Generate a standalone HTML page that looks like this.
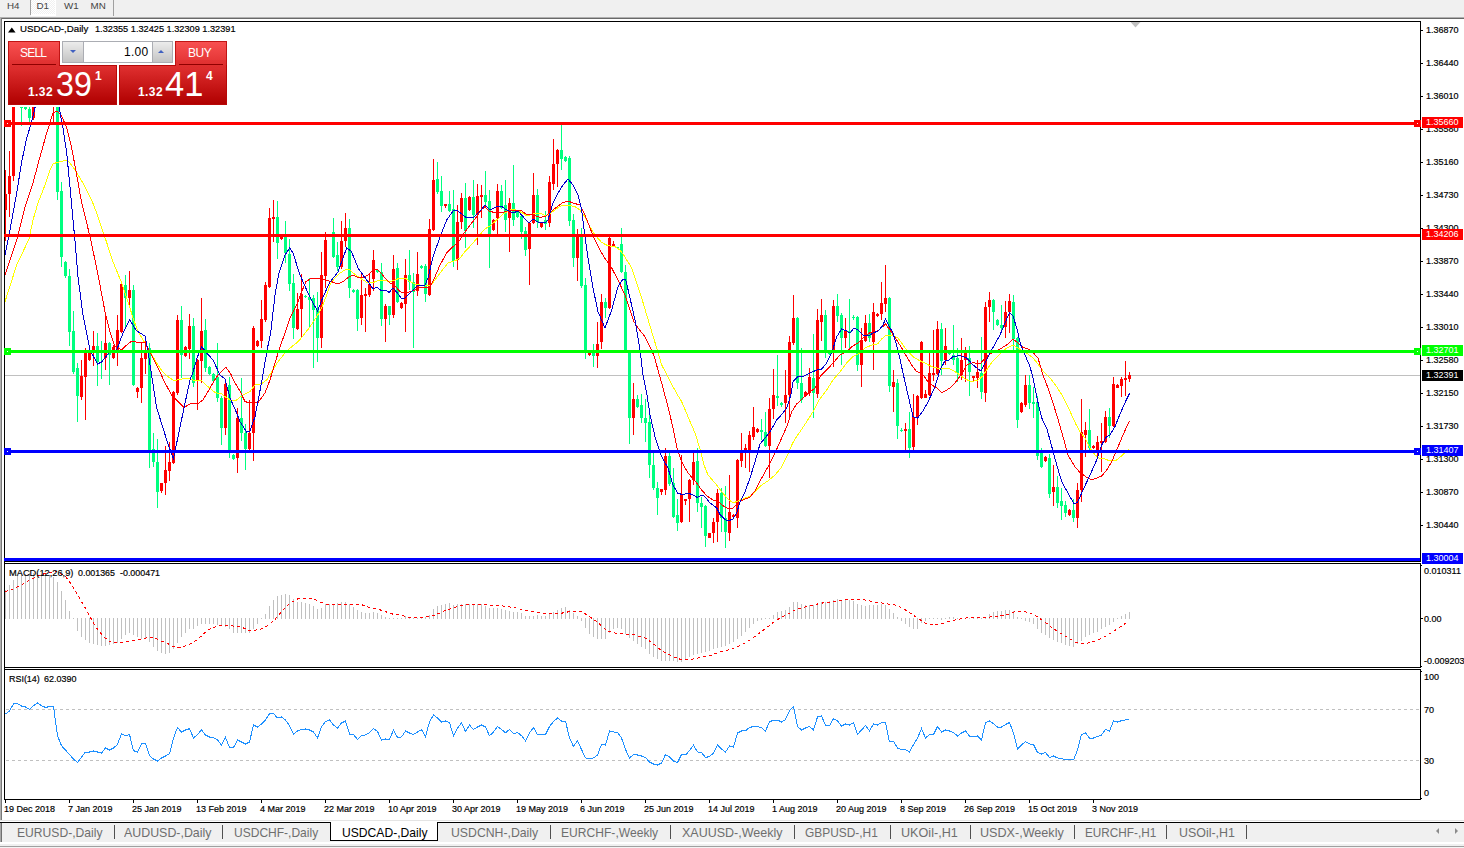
<!DOCTYPE html>
<html><head><meta charset="utf-8"><title>chart</title>
<style>
html,body{margin:0;padding:0}
body{width:1464px;height:848px;background:#f0f0f0;position:relative;overflow:hidden;font-family:"Liberation Sans",sans-serif}
.t{position:absolute;white-space:nowrap;line-height:1.15;font-family:"Liberation Sans",sans-serif}
.s{-webkit-text-stroke:0.2px currentColor}
.lab{position:absolute;left:1422px;width:41px;height:11px;font-size:9.8px;line-height:11px;white-space:nowrap;overflow:hidden}
.lab span{position:absolute;left:4px;top:-1px;transform:scaleX(0.92);transform-origin:0 0}
.abs{position:absolute}
</style></head><body>
<!-- top tab bar -->
<div class="abs" style="left:31px;top:0;width:25px;height:16px;background:#fff"></div><div class="abs" style="left:31px;top:0;width:24px;height:14px;background-color:#f0f0f0;background-image:conic-gradient(#fff 25%,#f0f0f0 0 50%,#fff 0 75%,#f0f0f0 0);background-size:2px 2px"></div>
<div class="abs" style="left:30px;top:0;width:1px;height:15px;background:#a0a0a0"></div>
<div class="abs" style="left:113px;top:0;width:1px;height:16px;background:#a0a0a0"></div>
<svg width="1464" height="848" viewBox="0 0 1464 848" style="position:absolute;left:0;top:0"><defs><clipPath id="cm"><rect x="5" y="22" width="1415" height="539"/></clipPath></defs><g shape-rendering="crispEdges"><rect x="0" y="17" width="1464" height="1" fill="#b0b0b0"/><rect x="0" y="18" width="1464" height="1" fill="#696969"/><rect x="0" y="19" width="1464" height="803" fill="#ffffff"/><rect x="0" y="18" width="1" height="803" fill="#b0b0b0"/><rect x="1" y="18" width="1" height="803" fill="#787878"/><rect x="4" y="21" width="1417" height="1" fill="#000"/><rect x="4" y="21" width="1" height="779" fill="#000"/><rect x="1420" y="21" width="1" height="779" fill="#000"/><rect x="4" y="799" width="1417" height="1" fill="#000"/><rect x="4" y="561" width="1417" height="1" fill="#000"/><rect x="4" y="563" width="1417" height="1" fill="#000"/><rect x="4" y="667" width="1417" height="1" fill="#000"/><rect x="4" y="669" width="1417" height="1" fill="#000"/><rect x="5" y="375" width="1415" height="1" fill="#c0c0c0"/></g><polygon points="1130.5,22 1140.5,22 1135.5,27.5" fill="#c0c0c0"/><g clip-path="url(#cm)"><g shape-rendering="crispEdges"><rect x="5" y="170" width="1" height="71" fill="#ff0000"/><rect x="4" y="194" width="3" height="16" fill="#ff0000"/><rect x="9" y="151" width="1" height="66" fill="#ff0000"/><rect x="8" y="176" width="3" height="18" fill="#ff0000"/><rect x="13" y="55" width="1" height="126" fill="#ff0000"/><rect x="12" y="60" width="3" height="116" fill="#ff0000"/><rect x="17" y="50" width="1" height="30" fill="#ff0000"/><rect x="16" y="55" width="3" height="15" fill="#ff0000"/><rect x="21" y="50" width="1" height="76" fill="#00ff7f"/><rect x="20" y="60" width="3" height="48" fill="#00ff7f"/><rect x="25" y="95" width="1" height="15" fill="#00ff7f"/><rect x="24" y="100" width="3" height="9" fill="#00ff7f"/><rect x="29" y="80" width="1" height="42" fill="#00ff7f"/><rect x="28" y="109" width="3" height="9" fill="#00ff7f"/><rect x="33" y="80" width="1" height="40" fill="#ff0000"/><rect x="32" y="85" width="3" height="33" fill="#ff0000"/><rect x="37" y="70" width="1" height="30" fill="#00ff7f"/><rect x="36" y="75" width="3" height="20" fill="#00ff7f"/><rect x="41" y="70" width="1" height="30" fill="#00ff7f"/><rect x="40" y="75" width="3" height="20" fill="#00ff7f"/><rect x="45" y="70" width="1" height="30" fill="#ff0000"/><rect x="44" y="75" width="3" height="20" fill="#ff0000"/><rect x="49" y="60" width="1" height="40" fill="#ff0000"/><rect x="48" y="65" width="3" height="25" fill="#ff0000"/><rect x="53" y="55" width="1" height="67" fill="#ff0000"/><rect x="52" y="60" width="3" height="40" fill="#ff0000"/><rect x="57" y="55" width="1" height="145" fill="#00ff7f"/><rect x="56" y="58" width="3" height="134" fill="#00ff7f"/><rect x="61" y="182" width="1" height="85" fill="#00ff7f"/><rect x="60" y="191" width="3" height="66" fill="#00ff7f"/><rect x="65" y="261" width="1" height="17" fill="#00ff7f"/><rect x="64" y="262" width="3" height="14" fill="#00ff7f"/><rect x="69" y="269" width="1" height="77" fill="#00ff7f"/><rect x="68" y="276" width="3" height="56" fill="#00ff7f"/><rect x="73" y="311" width="1" height="63" fill="#00ff7f"/><rect x="72" y="331" width="3" height="41" fill="#00ff7f"/><rect x="77" y="363" width="1" height="59" fill="#00ff7f"/><rect x="76" y="368" width="3" height="28" fill="#00ff7f"/><rect x="81" y="360" width="1" height="40" fill="#ff0000"/><rect x="80" y="376" width="3" height="21" fill="#ff0000"/><rect x="85" y="348" width="1" height="72" fill="#ff0000"/><rect x="84" y="352" width="3" height="25" fill="#ff0000"/><rect x="89" y="350" width="1" height="11" fill="#ff0000"/><rect x="88" y="352" width="3" height="8" fill="#ff0000"/><rect x="93" y="331" width="1" height="35" fill="#ff0000"/><rect x="92" y="346" width="3" height="7" fill="#ff0000"/><rect x="97" y="333" width="1" height="53" fill="#00ff7f"/><rect x="96" y="346" width="3" height="16" fill="#00ff7f"/><rect x="101" y="341" width="1" height="38" fill="#00ff7f"/><rect x="100" y="350" width="3" height="3" fill="#00ff7f"/><rect x="105" y="312" width="1" height="58" fill="#ff0000"/><rect x="104" y="343" width="3" height="15" fill="#ff0000"/><rect x="109" y="342" width="1" height="43" fill="#00ff7f"/><rect x="108" y="343" width="3" height="12" fill="#00ff7f"/><rect x="113" y="345" width="1" height="14" fill="#ff0000"/><rect x="112" y="347" width="3" height="11" fill="#ff0000"/><rect x="117" y="315" width="1" height="51" fill="#ff0000"/><rect x="116" y="330" width="3" height="20" fill="#ff0000"/><rect x="121" y="283" width="1" height="50" fill="#ff0000"/><rect x="120" y="284" width="3" height="48" fill="#ff0000"/><rect x="125" y="275" width="1" height="53" fill="#00ff7f"/><rect x="124" y="285" width="3" height="13" fill="#00ff7f"/><rect x="129" y="271" width="1" height="36" fill="#ff0000"/><rect x="128" y="290" width="3" height="8" fill="#ff0000"/><rect x="133" y="285" width="1" height="101" fill="#00ff7f"/><rect x="132" y="290" width="3" height="95" fill="#00ff7f"/><rect x="137" y="387" width="1" height="11" fill="#ff0000"/><rect x="136" y="388" width="3" height="4" fill="#ff0000"/><rect x="141" y="342" width="1" height="61" fill="#ff0000"/><rect x="140" y="358" width="3" height="30" fill="#ff0000"/><rect x="145" y="340" width="1" height="34" fill="#ff0000"/><rect x="144" y="352" width="3" height="7" fill="#ff0000"/><rect x="149" y="343" width="1" height="125" fill="#00ff7f"/><rect x="148" y="348" width="3" height="103" fill="#00ff7f"/><rect x="153" y="433" width="1" height="34" fill="#00ff7f"/><rect x="152" y="449" width="3" height="13" fill="#00ff7f"/><rect x="157" y="439" width="1" height="69" fill="#00ff7f"/><rect x="156" y="462" width="3" height="30" fill="#00ff7f"/><rect x="161" y="483" width="1" height="10" fill="#ff0000"/><rect x="160" y="483" width="3" height="8" fill="#ff0000"/><rect x="165" y="446" width="1" height="49" fill="#ff0000"/><rect x="164" y="470" width="3" height="13" fill="#ff0000"/><rect x="169" y="442" width="1" height="39" fill="#ff0000"/><rect x="168" y="462" width="3" height="9" fill="#ff0000"/><rect x="173" y="391" width="1" height="73" fill="#ff0000"/><rect x="172" y="392" width="3" height="71" fill="#ff0000"/><rect x="177" y="315" width="1" height="80" fill="#ff0000"/><rect x="176" y="320" width="3" height="73" fill="#ff0000"/><rect x="181" y="306" width="1" height="72" fill="#00ff7f"/><rect x="180" y="320" width="3" height="35" fill="#00ff7f"/><rect x="185" y="346" width="1" height="11" fill="#ff0000"/><rect x="184" y="347" width="3" height="9" fill="#ff0000"/><rect x="189" y="314" width="1" height="45" fill="#ff0000"/><rect x="188" y="326" width="3" height="23" fill="#ff0000"/><rect x="193" y="318" width="1" height="69" fill="#00ff7f"/><rect x="192" y="326" width="3" height="57" fill="#00ff7f"/><rect x="197" y="359" width="1" height="51" fill="#ff0000"/><rect x="196" y="360" width="3" height="20" fill="#ff0000"/><rect x="201" y="298" width="1" height="85" fill="#ff0000"/><rect x="200" y="331" width="3" height="30" fill="#ff0000"/><rect x="205" y="319" width="1" height="53" fill="#00ff7f"/><rect x="204" y="330" width="3" height="38" fill="#00ff7f"/><rect x="209" y="366" width="1" height="9" fill="#00ff7f"/><rect x="208" y="367" width="3" height="7" fill="#00ff7f"/><rect x="213" y="373" width="1" height="10" fill="#00ff7f"/><rect x="212" y="374" width="3" height="7" fill="#00ff7f"/><rect x="217" y="343" width="1" height="59" fill="#00ff7f"/><rect x="216" y="377" width="3" height="21" fill="#00ff7f"/><rect x="221" y="396" width="1" height="49" fill="#00ff7f"/><rect x="220" y="398" width="3" height="30" fill="#00ff7f"/><rect x="225" y="380" width="1" height="55" fill="#ff0000"/><rect x="224" y="384" width="3" height="44" fill="#ff0000"/><rect x="229" y="377" width="1" height="81" fill="#00ff7f"/><rect x="228" y="385" width="3" height="67" fill="#00ff7f"/><rect x="233" y="454" width="1" height="6" fill="#00ff7f"/><rect x="232" y="455" width="3" height="4" fill="#00ff7f"/><rect x="237" y="408" width="1" height="65" fill="#ff0000"/><rect x="236" y="418" width="3" height="40" fill="#ff0000"/><rect x="241" y="378" width="1" height="63" fill="#00ff7f"/><rect x="240" y="418" width="3" height="15" fill="#00ff7f"/><rect x="245" y="424" width="1" height="46" fill="#00ff7f"/><rect x="244" y="433" width="3" height="16" fill="#00ff7f"/><rect x="249" y="400" width="1" height="50" fill="#ff0000"/><rect x="248" y="433" width="3" height="16" fill="#ff0000"/><rect x="253" y="326" width="1" height="135" fill="#ff0000"/><rect x="252" y="328" width="3" height="105" fill="#ff0000"/><rect x="257" y="340" width="1" height="7" fill="#ff0000"/><rect x="256" y="341" width="3" height="5" fill="#ff0000"/><rect x="261" y="300" width="1" height="48" fill="#ff0000"/><rect x="260" y="319" width="3" height="22" fill="#ff0000"/><rect x="265" y="282" width="1" height="40" fill="#ff0000"/><rect x="264" y="285" width="3" height="35" fill="#ff0000"/><rect x="269" y="208" width="1" height="80" fill="#ff0000"/><rect x="268" y="218" width="3" height="69" fill="#ff0000"/><rect x="273" y="200" width="1" height="42" fill="#ff0000"/><rect x="272" y="217" width="3" height="2" fill="#ff0000"/><rect x="277" y="201" width="1" height="58" fill="#00ff7f"/><rect x="276" y="217" width="3" height="26" fill="#00ff7f"/><rect x="281" y="237" width="1" height="3" fill="#ff0000"/><rect x="280" y="237" width="3" height="2" fill="#ff0000"/><rect x="285" y="221" width="1" height="42" fill="#00ff7f"/><rect x="284" y="237" width="3" height="16" fill="#00ff7f"/><rect x="289" y="239" width="1" height="52" fill="#00ff7f"/><rect x="288" y="254" width="3" height="30" fill="#00ff7f"/><rect x="293" y="274" width="1" height="65" fill="#00ff7f"/><rect x="292" y="283" width="3" height="45" fill="#00ff7f"/><rect x="297" y="293" width="1" height="37" fill="#ff0000"/><rect x="296" y="309" width="3" height="20" fill="#ff0000"/><rect x="301" y="274" width="1" height="64" fill="#ff0000"/><rect x="300" y="294" width="3" height="15" fill="#ff0000"/><rect x="305" y="295" width="1" height="3" fill="#00ff7f"/><rect x="304" y="296" width="3" height="1" fill="#00ff7f"/><rect x="309" y="278" width="1" height="50" fill="#00ff7f"/><rect x="308" y="297" width="3" height="3" fill="#00ff7f"/><rect x="313" y="295" width="1" height="73" fill="#00ff7f"/><rect x="312" y="298" width="3" height="12" fill="#00ff7f"/><rect x="317" y="292" width="1" height="70" fill="#00ff7f"/><rect x="316" y="309" width="3" height="29" fill="#00ff7f"/><rect x="321" y="252" width="1" height="96" fill="#ff0000"/><rect x="320" y="275" width="3" height="63" fill="#ff0000"/><rect x="325" y="232" width="1" height="56" fill="#ff0000"/><rect x="324" y="240" width="3" height="36" fill="#ff0000"/><rect x="329" y="234" width="1" height="2" fill="#00ff7f"/><rect x="328" y="234" width="3" height="2" fill="#00ff7f"/><rect x="333" y="218" width="1" height="40" fill="#00ff7f"/><rect x="332" y="232" width="3" height="25" fill="#00ff7f"/><rect x="337" y="242" width="1" height="29" fill="#00ff7f"/><rect x="336" y="255" width="3" height="12" fill="#00ff7f"/><rect x="341" y="221" width="1" height="48" fill="#ff0000"/><rect x="340" y="241" width="3" height="26" fill="#ff0000"/><rect x="345" y="213" width="1" height="34" fill="#ff0000"/><rect x="344" y="228" width="3" height="13" fill="#ff0000"/><rect x="349" y="219" width="1" height="79" fill="#00ff7f"/><rect x="348" y="228" width="3" height="60" fill="#00ff7f"/><rect x="353" y="289" width="1" height="4" fill="#00ff7f"/><rect x="352" y="290" width="3" height="2" fill="#00ff7f"/><rect x="357" y="289" width="1" height="42" fill="#00ff7f"/><rect x="356" y="290" width="3" height="29" fill="#00ff7f"/><rect x="361" y="272" width="1" height="53" fill="#ff0000"/><rect x="360" y="295" width="3" height="23" fill="#ff0000"/><rect x="365" y="288" width="1" height="44" fill="#ff0000"/><rect x="364" y="294" width="3" height="2" fill="#ff0000"/><rect x="369" y="273" width="1" height="24" fill="#ff0000"/><rect x="368" y="284" width="3" height="11" fill="#ff0000"/><rect x="373" y="250" width="1" height="41" fill="#ff0000"/><rect x="372" y="260" width="3" height="19" fill="#ff0000"/><rect x="377" y="269" width="1" height="4" fill="#00ff7f"/><rect x="376" y="270" width="3" height="2" fill="#00ff7f"/><rect x="381" y="263" width="1" height="63" fill="#00ff7f"/><rect x="380" y="272" width="3" height="47" fill="#00ff7f"/><rect x="385" y="304" width="1" height="38" fill="#ff0000"/><rect x="384" y="306" width="3" height="13" fill="#ff0000"/><rect x="389" y="306" width="1" height="19" fill="#00ff7f"/><rect x="388" y="306" width="3" height="9" fill="#00ff7f"/><rect x="393" y="255" width="1" height="63" fill="#ff0000"/><rect x="392" y="269" width="3" height="46" fill="#ff0000"/><rect x="397" y="263" width="1" height="40" fill="#00ff7f"/><rect x="396" y="268" width="3" height="34" fill="#00ff7f"/><rect x="401" y="302" width="1" height="7" fill="#ff0000"/><rect x="400" y="303" width="3" height="5" fill="#ff0000"/><rect x="405" y="259" width="1" height="73" fill="#ff0000"/><rect x="404" y="275" width="3" height="29" fill="#ff0000"/><rect x="409" y="250" width="1" height="40" fill="#00ff7f"/><rect x="408" y="275" width="3" height="7" fill="#00ff7f"/><rect x="413" y="273" width="1" height="75" fill="#00ff7f"/><rect x="412" y="282" width="3" height="10" fill="#00ff7f"/><rect x="417" y="252" width="1" height="44" fill="#ff0000"/><rect x="416" y="274" width="3" height="17" fill="#ff0000"/><rect x="421" y="265" width="1" height="4" fill="#00ff7f"/><rect x="420" y="266" width="3" height="2" fill="#00ff7f"/><rect x="425" y="264" width="1" height="38" fill="#00ff7f"/><rect x="424" y="266" width="3" height="28" fill="#00ff7f"/><rect x="429" y="219" width="1" height="77" fill="#ff0000"/><rect x="428" y="229" width="3" height="66" fill="#ff0000"/><rect x="433" y="159" width="1" height="72" fill="#ff0000"/><rect x="432" y="180" width="3" height="50" fill="#ff0000"/><rect x="437" y="162" width="1" height="32" fill="#00ff7f"/><rect x="436" y="179" width="3" height="13" fill="#00ff7f"/><rect x="441" y="176" width="1" height="36" fill="#00ff7f"/><rect x="440" y="191" width="3" height="15" fill="#00ff7f"/><rect x="445" y="204" width="1" height="4" fill="#ff0000"/><rect x="444" y="204" width="3" height="2" fill="#ff0000"/><rect x="449" y="191" width="1" height="21" fill="#00ff7f"/><rect x="448" y="204" width="3" height="7" fill="#00ff7f"/><rect x="453" y="190" width="1" height="77" fill="#00ff7f"/><rect x="452" y="209" width="3" height="52" fill="#00ff7f"/><rect x="457" y="205" width="1" height="65" fill="#ff0000"/><rect x="456" y="222" width="3" height="38" fill="#ff0000"/><rect x="461" y="193" width="1" height="36" fill="#ff0000"/><rect x="460" y="198" width="3" height="24" fill="#ff0000"/><rect x="465" y="183" width="1" height="65" fill="#00ff7f"/><rect x="464" y="198" width="3" height="33" fill="#00ff7f"/><rect x="469" y="196" width="1" height="15" fill="#ff0000"/><rect x="468" y="197" width="3" height="13" fill="#ff0000"/><rect x="473" y="180" width="1" height="48" fill="#00ff7f"/><rect x="472" y="197" width="3" height="18" fill="#00ff7f"/><rect x="477" y="184" width="1" height="61" fill="#ff0000"/><rect x="476" y="196" width="3" height="19" fill="#ff0000"/><rect x="481" y="185" width="1" height="33" fill="#ff0000"/><rect x="480" y="195" width="3" height="2" fill="#ff0000"/><rect x="485" y="171" width="1" height="34" fill="#00ff7f"/><rect x="484" y="195" width="3" height="7" fill="#00ff7f"/><rect x="489" y="190" width="1" height="78" fill="#00ff7f"/><rect x="488" y="201" width="3" height="33" fill="#00ff7f"/><rect x="493" y="219" width="1" height="12" fill="#ff0000"/><rect x="492" y="220" width="3" height="10" fill="#ff0000"/><rect x="497" y="184" width="1" height="50" fill="#ff0000"/><rect x="496" y="191" width="3" height="27" fill="#ff0000"/><rect x="501" y="185" width="1" height="24" fill="#00ff7f"/><rect x="500" y="191" width="3" height="17" fill="#00ff7f"/><rect x="505" y="180" width="1" height="52" fill="#00ff7f"/><rect x="504" y="205" width="3" height="15" fill="#00ff7f"/><rect x="509" y="198" width="1" height="54" fill="#ff0000"/><rect x="508" y="203" width="3" height="15" fill="#ff0000"/><rect x="513" y="165" width="1" height="61" fill="#00ff7f"/><rect x="512" y="203" width="3" height="17" fill="#00ff7f"/><rect x="517" y="210" width="1" height="8" fill="#00ff7f"/><rect x="516" y="211" width="3" height="6" fill="#00ff7f"/><rect x="521" y="214" width="1" height="25" fill="#00ff7f"/><rect x="520" y="216" width="3" height="16" fill="#00ff7f"/><rect x="525" y="227" width="1" height="29" fill="#00ff7f"/><rect x="524" y="231" width="3" height="19" fill="#00ff7f"/><rect x="529" y="222" width="1" height="63" fill="#ff0000"/><rect x="528" y="223" width="3" height="26" fill="#ff0000"/><rect x="533" y="173" width="1" height="51" fill="#ff0000"/><rect x="532" y="195" width="3" height="28" fill="#ff0000"/><rect x="537" y="189" width="1" height="39" fill="#00ff7f"/><rect x="536" y="195" width="3" height="27" fill="#00ff7f"/><rect x="541" y="222" width="1" height="6" fill="#ff0000"/><rect x="540" y="222" width="3" height="5" fill="#ff0000"/><rect x="545" y="211" width="1" height="19" fill="#00ff7f"/><rect x="544" y="220" width="3" height="4" fill="#00ff7f"/><rect x="549" y="176" width="1" height="51" fill="#ff0000"/><rect x="548" y="182" width="3" height="41" fill="#ff0000"/><rect x="553" y="139" width="1" height="51" fill="#ff0000"/><rect x="552" y="164" width="3" height="20" fill="#ff0000"/><rect x="557" y="149" width="1" height="38" fill="#ff0000"/><rect x="556" y="150" width="3" height="14" fill="#ff0000"/><rect x="561" y="125" width="1" height="45" fill="#00ff7f"/><rect x="560" y="150" width="3" height="9" fill="#00ff7f"/><rect x="565" y="156" width="1" height="6" fill="#00ff7f"/><rect x="564" y="157" width="3" height="4" fill="#00ff7f"/><rect x="569" y="156" width="1" height="70" fill="#00ff7f"/><rect x="568" y="158" width="3" height="63" fill="#00ff7f"/><rect x="573" y="214" width="1" height="53" fill="#00ff7f"/><rect x="572" y="220" width="3" height="38" fill="#00ff7f"/><rect x="577" y="229" width="1" height="52" fill="#ff0000"/><rect x="576" y="237" width="3" height="21" fill="#ff0000"/><rect x="581" y="228" width="1" height="60" fill="#00ff7f"/><rect x="580" y="235" width="3" height="51" fill="#00ff7f"/><rect x="585" y="278" width="1" height="81" fill="#00ff7f"/><rect x="584" y="285" width="3" height="68" fill="#00ff7f"/><rect x="589" y="352" width="1" height="4" fill="#ff0000"/><rect x="588" y="353" width="3" height="2" fill="#ff0000"/><rect x="593" y="344" width="1" height="23" fill="#00ff7f"/><rect x="592" y="351" width="3" height="5" fill="#00ff7f"/><rect x="597" y="322" width="1" height="46" fill="#ff0000"/><rect x="596" y="344" width="3" height="12" fill="#ff0000"/><rect x="601" y="294" width="1" height="55" fill="#ff0000"/><rect x="600" y="302" width="3" height="40" fill="#ff0000"/><rect x="605" y="298" width="1" height="20" fill="#00ff7f"/><rect x="604" y="302" width="3" height="6" fill="#00ff7f"/><rect x="609" y="237" width="1" height="72" fill="#ff0000"/><rect x="608" y="238" width="3" height="70" fill="#ff0000"/><rect x="613" y="241" width="1" height="6" fill="#ff0000"/><rect x="612" y="244" width="3" height="3" fill="#ff0000"/><rect x="617" y="247" width="1" height="1" fill="#00ff7f"/><rect x="616" y="247" width="3" height="1" fill="#00ff7f"/><rect x="621" y="228" width="1" height="45" fill="#00ff7f"/><rect x="620" y="244" width="3" height="28" fill="#00ff7f"/><rect x="625" y="265" width="1" height="87" fill="#00ff7f"/><rect x="624" y="272" width="3" height="79" fill="#00ff7f"/><rect x="629" y="351" width="1" height="93" fill="#00ff7f"/><rect x="628" y="352" width="3" height="66" fill="#00ff7f"/><rect x="633" y="383" width="1" height="52" fill="#ff0000"/><rect x="632" y="399" width="3" height="19" fill="#ff0000"/><rect x="637" y="395" width="1" height="13" fill="#00ff7f"/><rect x="636" y="399" width="3" height="8" fill="#00ff7f"/><rect x="641" y="394" width="1" height="29" fill="#00ff7f"/><rect x="640" y="405" width="3" height="13" fill="#00ff7f"/><rect x="645" y="399" width="1" height="43" fill="#00ff7f"/><rect x="644" y="418" width="3" height="5" fill="#00ff7f"/><rect x="649" y="413" width="1" height="65" fill="#00ff7f"/><rect x="648" y="422" width="3" height="43" fill="#00ff7f"/><rect x="653" y="452" width="1" height="38" fill="#00ff7f"/><rect x="652" y="465" width="3" height="23" fill="#00ff7f"/><rect x="657" y="482" width="1" height="33" fill="#00ff7f"/><rect x="656" y="488" width="3" height="10" fill="#00ff7f"/><rect x="661" y="489" width="1" height="6" fill="#ff0000"/><rect x="660" y="489" width="3" height="3" fill="#ff0000"/><rect x="665" y="448" width="1" height="47" fill="#ff0000"/><rect x="664" y="456" width="3" height="34" fill="#ff0000"/><rect x="669" y="453" width="1" height="33" fill="#00ff7f"/><rect x="668" y="456" width="3" height="28" fill="#00ff7f"/><rect x="673" y="468" width="1" height="50" fill="#00ff7f"/><rect x="672" y="483" width="3" height="34" fill="#00ff7f"/><rect x="677" y="499" width="1" height="32" fill="#00ff7f"/><rect x="676" y="515" width="3" height="8" fill="#00ff7f"/><rect x="681" y="455" width="1" height="68" fill="#ff0000"/><rect x="680" y="494" width="3" height="28" fill="#ff0000"/><rect x="685" y="499" width="1" height="6" fill="#ff0000"/><rect x="684" y="499" width="3" height="2" fill="#ff0000"/><rect x="689" y="479" width="1" height="43" fill="#ff0000"/><rect x="688" y="480" width="3" height="19" fill="#ff0000"/><rect x="693" y="452" width="1" height="33" fill="#ff0000"/><rect x="692" y="462" width="3" height="18" fill="#ff0000"/><rect x="697" y="448" width="1" height="64" fill="#00ff7f"/><rect x="696" y="461" width="3" height="42" fill="#00ff7f"/><rect x="701" y="497" width="1" height="31" fill="#00ff7f"/><rect x="700" y="503" width="3" height="4" fill="#00ff7f"/><rect x="705" y="505" width="1" height="42" fill="#00ff7f"/><rect x="704" y="506" width="3" height="30" fill="#00ff7f"/><rect x="709" y="533" width="1" height="5" fill="#ff0000"/><rect x="708" y="533" width="3" height="5" fill="#ff0000"/><rect x="713" y="518" width="1" height="25" fill="#ff0000"/><rect x="712" y="522" width="3" height="11" fill="#ff0000"/><rect x="717" y="489" width="1" height="53" fill="#ff0000"/><rect x="716" y="493" width="3" height="29" fill="#ff0000"/><rect x="721" y="488" width="1" height="44" fill="#00ff7f"/><rect x="720" y="493" width="3" height="25" fill="#00ff7f"/><rect x="725" y="486" width="1" height="62" fill="#00ff7f"/><rect x="724" y="518" width="3" height="14" fill="#00ff7f"/><rect x="729" y="475" width="1" height="66" fill="#ff0000"/><rect x="728" y="512" width="3" height="21" fill="#ff0000"/><rect x="733" y="514" width="1" height="4" fill="#ff0000"/><rect x="732" y="515" width="3" height="2" fill="#ff0000"/><rect x="737" y="459" width="1" height="69" fill="#ff0000"/><rect x="736" y="460" width="3" height="58" fill="#ff0000"/><rect x="741" y="433" width="1" height="34" fill="#ff0000"/><rect x="740" y="452" width="3" height="9" fill="#ff0000"/><rect x="745" y="444" width="1" height="24" fill="#ff0000"/><rect x="744" y="448" width="3" height="3" fill="#ff0000"/><rect x="749" y="431" width="1" height="41" fill="#ff0000"/><rect x="748" y="435" width="3" height="15" fill="#ff0000"/><rect x="753" y="407" width="1" height="33" fill="#ff0000"/><rect x="752" y="427" width="3" height="10" fill="#ff0000"/><rect x="757" y="428" width="1" height="5" fill="#ff0000"/><rect x="756" y="429" width="3" height="3" fill="#ff0000"/><rect x="761" y="419" width="1" height="21" fill="#00ff7f"/><rect x="760" y="430" width="3" height="2" fill="#00ff7f"/><rect x="765" y="412" width="1" height="35" fill="#00ff7f"/><rect x="764" y="432" width="3" height="14" fill="#00ff7f"/><rect x="769" y="398" width="1" height="80" fill="#ff0000"/><rect x="768" y="409" width="3" height="37" fill="#ff0000"/><rect x="773" y="369" width="1" height="50" fill="#ff0000"/><rect x="772" y="395" width="3" height="14" fill="#ff0000"/><rect x="777" y="355" width="1" height="51" fill="#00ff7f"/><rect x="776" y="396" width="3" height="2" fill="#00ff7f"/><rect x="781" y="402" width="1" height="5" fill="#00ff7f"/><rect x="780" y="403" width="3" height="2" fill="#00ff7f"/><rect x="785" y="370" width="1" height="53" fill="#ff0000"/><rect x="784" y="395" width="3" height="8" fill="#ff0000"/><rect x="789" y="336" width="1" height="81" fill="#ff0000"/><rect x="788" y="342" width="3" height="53" fill="#ff0000"/><rect x="793" y="295" width="1" height="50" fill="#ff0000"/><rect x="792" y="318" width="3" height="25" fill="#ff0000"/><rect x="797" y="317" width="1" height="72" fill="#00ff7f"/><rect x="796" y="318" width="3" height="65" fill="#00ff7f"/><rect x="801" y="348" width="1" height="55" fill="#00ff7f"/><rect x="800" y="383" width="3" height="17" fill="#00ff7f"/><rect x="805" y="391" width="1" height="6" fill="#ff0000"/><rect x="804" y="392" width="3" height="4" fill="#ff0000"/><rect x="809" y="368" width="1" height="28" fill="#ff0000"/><rect x="808" y="377" width="3" height="16" fill="#ff0000"/><rect x="813" y="334" width="1" height="84" fill="#00ff7f"/><rect x="812" y="378" width="3" height="15" fill="#00ff7f"/><rect x="817" y="309" width="1" height="89" fill="#ff0000"/><rect x="816" y="320" width="3" height="74" fill="#ff0000"/><rect x="821" y="299" width="1" height="42" fill="#ff0000"/><rect x="820" y="315" width="3" height="7" fill="#ff0000"/><rect x="825" y="310" width="1" height="48" fill="#00ff7f"/><rect x="824" y="315" width="3" height="37" fill="#00ff7f"/><rect x="829" y="352" width="1" height="3" fill="#00ff7f"/><rect x="828" y="353" width="3" height="1" fill="#00ff7f"/><rect x="833" y="300" width="1" height="67" fill="#ff0000"/><rect x="832" y="306" width="3" height="47" fill="#ff0000"/><rect x="837" y="294" width="1" height="28" fill="#00ff7f"/><rect x="836" y="306" width="3" height="10" fill="#00ff7f"/><rect x="841" y="313" width="1" height="52" fill="#00ff7f"/><rect x="840" y="315" width="3" height="23" fill="#00ff7f"/><rect x="845" y="318" width="1" height="30" fill="#ff0000"/><rect x="844" y="331" width="3" height="7" fill="#ff0000"/><rect x="849" y="299" width="1" height="49" fill="#00ff7f"/><rect x="848" y="331" width="3" height="2" fill="#00ff7f"/><rect x="853" y="315" width="1" height="5" fill="#00ff7f"/><rect x="852" y="317" width="3" height="1" fill="#00ff7f"/><rect x="857" y="316" width="1" height="55" fill="#00ff7f"/><rect x="856" y="317" width="3" height="48" fill="#00ff7f"/><rect x="861" y="328" width="1" height="59" fill="#ff0000"/><rect x="860" y="340" width="3" height="25" fill="#ff0000"/><rect x="865" y="315" width="1" height="27" fill="#ff0000"/><rect x="864" y="323" width="3" height="18" fill="#ff0000"/><rect x="869" y="314" width="1" height="28" fill="#00ff7f"/><rect x="868" y="323" width="3" height="15" fill="#00ff7f"/><rect x="873" y="303" width="1" height="67" fill="#ff0000"/><rect x="872" y="312" width="3" height="30" fill="#ff0000"/><rect x="877" y="313" width="1" height="4" fill="#ff0000"/><rect x="876" y="314" width="3" height="2" fill="#ff0000"/><rect x="881" y="282" width="1" height="38" fill="#ff0000"/><rect x="880" y="303" width="3" height="11" fill="#ff0000"/><rect x="885" y="265" width="1" height="47" fill="#ff0000"/><rect x="884" y="298" width="3" height="6" fill="#ff0000"/><rect x="889" y="297" width="1" height="95" fill="#00ff7f"/><rect x="888" y="298" width="3" height="88" fill="#00ff7f"/><rect x="893" y="370" width="1" height="42" fill="#ff0000"/><rect x="892" y="382" width="3" height="5" fill="#ff0000"/><rect x="897" y="379" width="1" height="60" fill="#00ff7f"/><rect x="896" y="383" width="3" height="43" fill="#00ff7f"/><rect x="901" y="428" width="1" height="4" fill="#00ff7f"/><rect x="900" y="430" width="3" height="1" fill="#00ff7f"/><rect x="905" y="423" width="1" height="30" fill="#ff0000"/><rect x="904" y="429" width="3" height="2" fill="#ff0000"/><rect x="909" y="412" width="1" height="46" fill="#00ff7f"/><rect x="908" y="429" width="3" height="19" fill="#00ff7f"/><rect x="913" y="394" width="1" height="56" fill="#ff0000"/><rect x="912" y="417" width="3" height="30" fill="#ff0000"/><rect x="917" y="395" width="1" height="30" fill="#ff0000"/><rect x="916" y="396" width="3" height="22" fill="#ff0000"/><rect x="921" y="341" width="1" height="58" fill="#ff0000"/><rect x="920" y="342" width="3" height="56" fill="#ff0000"/><rect x="925" y="390" width="1" height="8" fill="#ff0000"/><rect x="924" y="394" width="3" height="4" fill="#ff0000"/><rect x="929" y="352" width="1" height="44" fill="#ff0000"/><rect x="928" y="373" width="3" height="22" fill="#ff0000"/><rect x="933" y="330" width="1" height="51" fill="#ff0000"/><rect x="932" y="373" width="3" height="2" fill="#ff0000"/><rect x="937" y="321" width="1" height="54" fill="#ff0000"/><rect x="936" y="329" width="3" height="45" fill="#ff0000"/><rect x="941" y="323" width="1" height="52" fill="#00ff7f"/><rect x="940" y="329" width="3" height="32" fill="#00ff7f"/><rect x="945" y="328" width="1" height="37" fill="#ff0000"/><rect x="944" y="346" width="3" height="14" fill="#ff0000"/><rect x="949" y="352" width="1" height="3" fill="#00ff7f"/><rect x="948" y="353" width="3" height="1" fill="#00ff7f"/><rect x="953" y="325" width="1" height="40" fill="#00ff7f"/><rect x="952" y="355" width="3" height="5" fill="#00ff7f"/><rect x="957" y="348" width="1" height="34" fill="#00ff7f"/><rect x="956" y="358" width="3" height="15" fill="#00ff7f"/><rect x="961" y="338" width="1" height="42" fill="#ff0000"/><rect x="960" y="360" width="3" height="15" fill="#ff0000"/><rect x="965" y="347" width="1" height="35" fill="#ff0000"/><rect x="964" y="352" width="3" height="8" fill="#ff0000"/><rect x="969" y="346" width="1" height="50" fill="#00ff7f"/><rect x="968" y="358" width="3" height="14" fill="#00ff7f"/><rect x="973" y="376" width="1" height="5" fill="#ff0000"/><rect x="972" y="376" width="3" height="2" fill="#ff0000"/><rect x="977" y="360" width="1" height="28" fill="#ff0000"/><rect x="976" y="372" width="3" height="6" fill="#ff0000"/><rect x="981" y="337" width="1" height="62" fill="#00ff7f"/><rect x="980" y="373" width="3" height="19" fill="#00ff7f"/><rect x="985" y="302" width="1" height="100" fill="#ff0000"/><rect x="984" y="307" width="3" height="86" fill="#ff0000"/><rect x="989" y="292" width="1" height="30" fill="#ff0000"/><rect x="988" y="300" width="3" height="7" fill="#ff0000"/><rect x="993" y="299" width="1" height="31" fill="#00ff7f"/><rect x="992" y="300" width="3" height="12" fill="#00ff7f"/><rect x="997" y="319" width="1" height="7" fill="#00ff7f"/><rect x="996" y="320" width="3" height="5" fill="#00ff7f"/><rect x="1001" y="305" width="1" height="27" fill="#00ff7f"/><rect x="1000" y="325" width="3" height="3" fill="#00ff7f"/><rect x="1005" y="301" width="1" height="37" fill="#ff0000"/><rect x="1004" y="312" width="3" height="15" fill="#ff0000"/><rect x="1009" y="294" width="1" height="39" fill="#ff0000"/><rect x="1008" y="301" width="3" height="11" fill="#ff0000"/><rect x="1013" y="295" width="1" height="58" fill="#00ff7f"/><rect x="1012" y="302" width="3" height="37" fill="#00ff7f"/><rect x="1017" y="337" width="1" height="91" fill="#00ff7f"/><rect x="1016" y="338" width="3" height="82" fill="#00ff7f"/><rect x="1021" y="402" width="1" height="11" fill="#ff0000"/><rect x="1020" y="403" width="3" height="9" fill="#ff0000"/><rect x="1025" y="375" width="1" height="32" fill="#ff0000"/><rect x="1024" y="385" width="3" height="20" fill="#ff0000"/><rect x="1029" y="375" width="1" height="34" fill="#00ff7f"/><rect x="1028" y="385" width="3" height="18" fill="#00ff7f"/><rect x="1033" y="387" width="1" height="31" fill="#00ff7f"/><rect x="1032" y="402" width="3" height="2" fill="#00ff7f"/><rect x="1037" y="396" width="1" height="64" fill="#00ff7f"/><rect x="1036" y="402" width="3" height="54" fill="#00ff7f"/><rect x="1041" y="448" width="1" height="20" fill="#00ff7f"/><rect x="1040" y="453" width="3" height="14" fill="#00ff7f"/><rect x="1045" y="456" width="1" height="6" fill="#ff0000"/><rect x="1044" y="457" width="3" height="4" fill="#ff0000"/><rect x="1049" y="454" width="1" height="44" fill="#00ff7f"/><rect x="1048" y="458" width="3" height="36" fill="#00ff7f"/><rect x="1053" y="465" width="1" height="41" fill="#ff0000"/><rect x="1052" y="487" width="3" height="5" fill="#ff0000"/><rect x="1057" y="476" width="1" height="32" fill="#00ff7f"/><rect x="1056" y="487" width="3" height="16" fill="#00ff7f"/><rect x="1061" y="488" width="1" height="32" fill="#00ff7f"/><rect x="1060" y="501" width="3" height="5" fill="#00ff7f"/><rect x="1065" y="501" width="1" height="16" fill="#00ff7f"/><rect x="1064" y="505" width="3" height="8" fill="#00ff7f"/><rect x="1069" y="509" width="1" height="7" fill="#ff0000"/><rect x="1068" y="510" width="3" height="5" fill="#ff0000"/><rect x="1073" y="499" width="1" height="23" fill="#00ff7f"/><rect x="1072" y="510" width="3" height="8" fill="#00ff7f"/><rect x="1077" y="483" width="1" height="45" fill="#ff0000"/><rect x="1076" y="490" width="3" height="28" fill="#ff0000"/><rect x="1081" y="399" width="1" height="103" fill="#ff0000"/><rect x="1080" y="432" width="3" height="58" fill="#ff0000"/><rect x="1085" y="422" width="1" height="35" fill="#ff0000"/><rect x="1084" y="430" width="3" height="5" fill="#ff0000"/><rect x="1089" y="409" width="1" height="44" fill="#00ff7f"/><rect x="1088" y="430" width="3" height="18" fill="#00ff7f"/><rect x="1093" y="445" width="1" height="4" fill="#ff0000"/><rect x="1092" y="446" width="3" height="2" fill="#ff0000"/><rect x="1097" y="436" width="1" height="22" fill="#ff0000"/><rect x="1096" y="442" width="3" height="8" fill="#ff0000"/><rect x="1101" y="423" width="1" height="49" fill="#ff0000"/><rect x="1100" y="441" width="3" height="2" fill="#ff0000"/><rect x="1105" y="411" width="1" height="32" fill="#ff0000"/><rect x="1104" y="417" width="3" height="25" fill="#ff0000"/><rect x="1109" y="408" width="1" height="30" fill="#00ff7f"/><rect x="1108" y="417" width="3" height="9" fill="#00ff7f"/><rect x="1113" y="377" width="1" height="50" fill="#ff0000"/><rect x="1112" y="384" width="3" height="42" fill="#ff0000"/><rect x="1117" y="384" width="1" height="4" fill="#ff0000"/><rect x="1116" y="385" width="3" height="3" fill="#ff0000"/><rect x="1121" y="377" width="1" height="20" fill="#ff0000"/><rect x="1120" y="379" width="3" height="7" fill="#ff0000"/><rect x="1125" y="361" width="1" height="35" fill="#ff0000"/><rect x="1124" y="378" width="3" height="2" fill="#ff0000"/><rect x="1129" y="372" width="1" height="10" fill="#ff0000"/><rect x="1128" y="375" width="3" height="4" fill="#ff0000"/></g><polyline points="5,301.7 16.7,265 29,239 33,220 38,203 45,185 50,170 53,164 56.7,162.5 63,161 66.7,160 70,163 75,170 80,178 85,186.7 91.7,200 96.7,213 101.7,228 105.5,239 113,261.7 121.7,283 128,301.7 133,318 138,331.7 145,343 150,351.7 156.7,363 162,371 168,376.7 174,380.8 181.7,379 188,378 195,380.8 201.7,380.8 208,386.7 215,392.5 221.7,394 226.7,398 231.7,401 236.7,400 240,397 245,394 250,391.7 255,385 261.7,383.7 266.7,380 271.7,371.7 278,361.7 285,353 291.7,346.7 298,341.7 303,336 310,326.7 316.7,316.7 321.7,308 326.7,295 330.8,283 335,278 340,273 345,270 349,269 353,273 358,276.7 363,280 368,283 373,282.5 378,280.8 383,280 390,281.7 395,280 400,278 405,278 410,281.7 415,284 420,285 425,285.8 430,286 435,280 440,273 448,263 455,260.8 460,258 465,251.7 473,243 480,234.5 485,229 490,225.8 496.7,220 503,214 510,210 515,209.7 521.7,212.5 526.7,215.8 533,214 540,213 545.8,215.8 551.7,212.5 558,207.5 563,205 568,205 575,206.7 580,210 585,216.7 590,226.7 595,235 601.7,242.5 608,245.8 615,246.7 620,250 624,255.5 631.7,268 636.7,283 641.7,298 646.7,315 651.7,331.7 656.7,348 661.7,365 668,376.7 673,386.7 677,394 681.7,401.7 688,416.7 695,433 700,449 704,465 708,475 715,483 721.7,491.7 728,499 733,503 738,501 745,498 750.8,495.8 756.7,490 761.7,485 768,480.8 775,475 781.7,467 786.7,457 791.7,445 795,439 800,431.7 806.7,421.7 813,411.7 818,401.7 822,396 826.7,390 833,380 840,371.7 846.7,363 853,356.7 860,353 865,348 871.7,345 877.5,344 881.7,339 885,335.8 893,335.5 898,338 903,345 908,351.7 913,356.7 920,360.8 926.7,364 931.7,366.7 936.7,368 943,368 950,369 955,371.7 960,375 965,379 971.7,381.7 978,380 983,375.8 988,368 993,360.8 1000,354 1006.7,348 1013,345 1018,348 1023,351.7 1028,354 1033,358 1038,364 1043,370.8 1050,378 1056.7,386.7 1063,396.7 1068,406.7 1073,418 1075.8,424 1080,431.7 1085,438 1090,448 1095,455 1100,458.7 1105,459 1110,461 1116.7,460 1121.7,455.8 1126.7,450.8 1129,449" fill="none" stroke="#ffff00" stroke-width="1" shape-rendering="crispEdges"/><polyline points="5,275 16.7,240 25,206.7 33,183 40,156.7 46.7,133 53,113 56.7,111 61.7,116 66.7,128 71.7,148 76.7,175 81.7,203 86.7,223 90.5,239 96.7,268 105,311.7 110,331.7 115,346.7 121.7,350 126.7,345 131.7,341 138,342.5 145,343 150,351.7 156.7,365 160,372 165,383 171.7,395 178,401.7 184,407.5 191.7,403 197.5,404 203,400 210,388 216.7,376.7 220,373 225.8,367 230.5,373.5 235,383 240,391 245,401.7 251.7,403 258,402.5 265,393 270,380 275,363 280,346.7 285,333 290,318 296.7,305 301.7,291.7 305.8,281.7 311.7,278 318,278 325,280 331.7,281.7 338,284 343,281.7 348,277.5 353,275 358,277.5 363,278 368,275 373,270 376.7,269 380.8,272.5 385,278 390,283 395,285.8 400,291.7 405,293 410,291.7 415,290 420,287.5 425.8,288 430,286.7 435,276.7 440,265 446.7,253 453,246.7 460,240 465,231.7 471.7,223 476.7,216.7 481,210 485,206.7 490,211.7 496.7,212.5 503,212.5 510,210 516.7,210 521.7,211 526.7,214.7 533,214.7 540,217.5 545.8,216 551.7,211 558,206 563,202.5 568,201 573,203 580,205 585,215 590,228 595,240 600,250 604,257 611.7,268 618,280 625,295 630,310 634,321.7 638,328 645,336.7 650,346.7 654,355.8 658,370 661.7,383 664,392 668,406.7 673,428 677.5,450 681.7,461.7 688,473 695,480.8 701.7,490 706.7,495.8 713,500 718,500.8 721.7,505 726.7,508 733,508 738,503 743,500 750,497 755,490.8 761.7,478 768,466.7 775,453 781.7,438 786.7,426.7 791.7,411.7 796.7,404 803,398 810,392 815,388 820,376.7 826.7,370 833,363 840,355 846.7,351.7 851.7,346.7 858,343 863,338 870,332.5 876.7,331.7 881.7,327.5 885.5,324 890,330 896.7,340 901.7,348 906.7,356.7 911.7,365 916.7,371.7 921.7,373 926.7,380 931.7,385 936.7,388 941.7,392.5 946.7,390 951.7,386.7 956.7,380.8 961.7,374 966.7,365 973,362.5 980,364 985,358 991.7,353 1000,349 1006.7,345 1013,339 1018,343 1023,347.5 1028,349 1033,352.5 1038,358 1043,375 1048,388 1053,403 1058,419 1063,436.7 1068,455 1075,466.7 1080,472.5 1086.7,477.5 1091.7,479.7 1096.7,478 1101.7,476 1106.7,470 1111.7,461.7 1116.7,450 1121.7,438 1126.7,426.7 1129.7,420.8" fill="none" stroke="#ff0000" stroke-width="1" shape-rendering="crispEdges"/><polyline points="5,255 10,230 16.7,193 21.7,161.7 26.7,138 31.7,121.7 35,107.5 40,90 47,80 53,85 59,107 63.3,130 66.7,153 70,186.7 73.3,223 75,241 78,277 83,315 90,350 97.5,364 101.7,362 109,352.5 116.7,350 123,333 129.7,320 136.7,331 145,336 147.5,348 151.7,376 156.7,408 166.7,440 173.3,459 176.7,443 184,408 190,380 193,372 197.5,356.7 201.7,346.7 206.7,353 213,360 220,375 225,379 230,398 236.7,413 240,421.7 246.7,432 250,431 255,416.7 261.7,381.7 267.5,348 270.8,332 275,295 279,273 285,255 289.7,248 293,253 300,275 306.7,290 313,303 317.5,311 323,297 330,282 338,272 343,258 346.7,248 351,251 355,260 358,268 363,275 369,283 373,289 376.7,287 381.7,291 386,290 389,292.5 393,288 397.5,293 401,298 405,298 410,293 416.7,286 425,285 428,278 433,257 440,237 446.7,220 453,211 456.7,210 461.7,214 466,217.5 473,218 478,213 481,210 485,205 490,210 496.7,206.7 501,206 506.7,210 513,213 518,211 523,216.7 529,223 533,219 538,222 545,223 548,220 553,203 558,193 563,185 568,179 573,185 578,195 581.7,210 585,236.7 588,258 593,288 598,311.7 605,328 611.7,310 618,286.7 622.5,279.7 625.8,280 630,298 635,320 640,350 643,375 646.7,393 650,415 655,436.7 661.7,456.7 668,468 673,485 677.5,493 682.5,494.7 688,493 693,495 697.5,497.5 701.7,495 705,496.7 710,503 716.7,508 720,514.5 724,518.7 728,521 733,519 736.7,513 740,501.7 745,491.7 750,478 755,462 760,444 765,438 770,431.7 776.7,420 783,413 786.7,408 790.8,395 793,381.7 798,376.7 803,376.7 810,373 816.7,370 821.7,369 826.7,363 831.7,353 836.7,336.7 841.7,329 846.7,331 850,333 854,328 858,330 863,335 869,336 873,333 878,331 882.5,326 885.5,319 888,324 893,333 898,350 903,373 908,395 913,416.7 917.5,418 922.5,411.7 928,402 935,386.7 940,370 945,360.8 949,360 953,356.7 960,355.5 966.7,358 973,365 981,371 985,363 989,355 993,347.5 1000,335 1005,323 1009.5,312.5 1013,316 1016.7,328 1020.8,345 1025,355 1030,366.7 1033,378 1036.7,397 1041.7,418 1046.7,428 1050.8,443 1056.7,465 1061.7,481.7 1068,493 1074,504 1077.5,502.5 1083,490 1090,475 1096.7,460 1101.7,445 1105.8,437.5 1110,435 1115,426.5 1120,414 1125.5,401.7 1129.7,393" fill="none" stroke="#0000cd" stroke-width="1" shape-rendering="crispEdges"/></g><g shape-rendering="crispEdges"><rect x="4" y="122" width="1416" height="3" fill="#ff0000"/><rect x="4" y="120" width="7" height="7" fill="#ff0000"/><rect x="7" y="123" width="1" height="1" fill="#fff"/><rect x="1414" y="120" width="7" height="7" fill="#ff0000"/><rect x="1417" y="123" width="1" height="1" fill="#fff"/><rect x="4" y="234" width="1416" height="3" fill="#ff0000"/><rect x="4" y="350" width="1416" height="3" fill="#00ff00"/><rect x="4" y="348" width="7" height="7" fill="#00ff00"/><rect x="7" y="351" width="1" height="1" fill="#fff"/><rect x="1414" y="348" width="7" height="7" fill="#00ff00"/><rect x="1417" y="351" width="1" height="1" fill="#fff"/><rect x="4" y="450" width="1416" height="3" fill="#0000ff"/><rect x="4" y="448" width="7" height="7" fill="#0000ff"/><rect x="7" y="451" width="1" height="1" fill="#fff"/><rect x="1414" y="448" width="7" height="7" fill="#0000ff"/><rect x="1417" y="451" width="1" height="1" fill="#fff"/><rect x="4" y="558" width="1416" height="3" fill="#0000ff"/></g><rect x="5" y="38" width="225" height="69" fill="#fff"/><g shape-rendering="crispEdges"><rect x="5" y="590" width="1" height="29" fill="#c0c0c0"/><rect x="9" y="585" width="1" height="34" fill="#c0c0c0"/><rect x="13" y="580" width="1" height="39" fill="#c0c0c0"/><rect x="17" y="576" width="1" height="43" fill="#c0c0c0"/><rect x="21" y="574" width="1" height="45" fill="#c0c0c0"/><rect x="25" y="574" width="1" height="45" fill="#c0c0c0"/><rect x="29" y="573" width="1" height="46" fill="#c0c0c0"/><rect x="33" y="573" width="1" height="46" fill="#c0c0c0"/><rect x="37" y="573" width="1" height="46" fill="#c0c0c0"/><rect x="41" y="574" width="1" height="45" fill="#c0c0c0"/><rect x="45" y="574" width="1" height="45" fill="#c0c0c0"/><rect x="49" y="575" width="1" height="44" fill="#c0c0c0"/><rect x="53" y="577" width="1" height="42" fill="#c0c0c0"/><rect x="57" y="582" width="1" height="37" fill="#c0c0c0"/><rect x="61" y="591" width="1" height="28" fill="#c0c0c0"/><rect x="65" y="600" width="1" height="19" fill="#c0c0c0"/><rect x="69" y="611" width="1" height="8" fill="#c0c0c0"/><rect x="73" y="618" width="1" height="1" fill="#c0c0c0"/><rect x="77" y="618" width="1" height="13" fill="#c0c0c0"/><rect x="81" y="618" width="1" height="19" fill="#c0c0c0"/><rect x="85" y="618" width="1" height="22" fill="#c0c0c0"/><rect x="89" y="618" width="1" height="25" fill="#c0c0c0"/><rect x="93" y="618" width="1" height="26" fill="#c0c0c0"/><rect x="97" y="618" width="1" height="27" fill="#c0c0c0"/><rect x="101" y="618" width="1" height="28" fill="#c0c0c0"/><rect x="105" y="618" width="1" height="28" fill="#c0c0c0"/><rect x="109" y="618" width="1" height="27" fill="#c0c0c0"/><rect x="113" y="618" width="1" height="26" fill="#c0c0c0"/><rect x="117" y="618" width="1" height="25" fill="#c0c0c0"/><rect x="121" y="618" width="1" height="21" fill="#c0c0c0"/><rect x="125" y="618" width="1" height="17" fill="#c0c0c0"/><rect x="129" y="618" width="1" height="15" fill="#c0c0c0"/><rect x="133" y="618" width="1" height="17" fill="#c0c0c0"/><rect x="137" y="618" width="1" height="19" fill="#c0c0c0"/><rect x="141" y="618" width="1" height="21" fill="#c0c0c0"/><rect x="145" y="618" width="1" height="21" fill="#c0c0c0"/><rect x="149" y="618" width="1" height="24" fill="#c0c0c0"/><rect x="153" y="618" width="1" height="29" fill="#c0c0c0"/><rect x="157" y="618" width="1" height="33" fill="#c0c0c0"/><rect x="161" y="618" width="1" height="35" fill="#c0c0c0"/><rect x="165" y="618" width="1" height="36" fill="#c0c0c0"/><rect x="169" y="618" width="1" height="35" fill="#c0c0c0"/><rect x="173" y="618" width="1" height="31" fill="#c0c0c0"/><rect x="177" y="618" width="1" height="25" fill="#c0c0c0"/><rect x="181" y="618" width="1" height="19" fill="#c0c0c0"/><rect x="185" y="618" width="1" height="15" fill="#c0c0c0"/><rect x="189" y="618" width="1" height="11" fill="#c0c0c0"/><rect x="193" y="618" width="1" height="11" fill="#c0c0c0"/><rect x="197" y="618" width="1" height="8" fill="#c0c0c0"/><rect x="201" y="618" width="1" height="6" fill="#c0c0c0"/><rect x="205" y="618" width="1" height="6" fill="#c0c0c0"/><rect x="209" y="618" width="1" height="6" fill="#c0c0c0"/><rect x="213" y="618" width="1" height="6" fill="#c0c0c0"/><rect x="217" y="618" width="1" height="7" fill="#c0c0c0"/><rect x="221" y="618" width="1" height="8" fill="#c0c0c0"/><rect x="225" y="618" width="1" height="9" fill="#c0c0c0"/><rect x="229" y="618" width="1" height="11" fill="#c0c0c0"/><rect x="233" y="618" width="1" height="15" fill="#c0c0c0"/><rect x="237" y="618" width="1" height="15" fill="#c0c0c0"/><rect x="241" y="618" width="1" height="15" fill="#c0c0c0"/><rect x="245" y="618" width="1" height="15" fill="#c0c0c0"/><rect x="249" y="618" width="1" height="15" fill="#c0c0c0"/><rect x="253" y="618" width="1" height="11" fill="#c0c0c0"/><rect x="257" y="618" width="1" height="6" fill="#c0c0c0"/><rect x="261" y="618" width="1" height="1" fill="#c0c0c0"/><rect x="265" y="614" width="1" height="5" fill="#c0c0c0"/><rect x="269" y="606" width="1" height="13" fill="#c0c0c0"/><rect x="273" y="600" width="1" height="19" fill="#c0c0c0"/><rect x="277" y="596" width="1" height="23" fill="#c0c0c0"/><rect x="281" y="595" width="1" height="24" fill="#c0c0c0"/><rect x="285" y="594" width="1" height="25" fill="#c0c0c0"/><rect x="289" y="595" width="1" height="24" fill="#c0c0c0"/><rect x="293" y="599" width="1" height="20" fill="#c0c0c0"/><rect x="297" y="602" width="1" height="17" fill="#c0c0c0"/><rect x="301" y="602" width="1" height="17" fill="#c0c0c0"/><rect x="305" y="603" width="1" height="16" fill="#c0c0c0"/><rect x="309" y="604" width="1" height="15" fill="#c0c0c0"/><rect x="313" y="606" width="1" height="13" fill="#c0c0c0"/><rect x="317" y="609" width="1" height="10" fill="#c0c0c0"/><rect x="321" y="608" width="1" height="11" fill="#c0c0c0"/><rect x="325" y="604" width="1" height="15" fill="#c0c0c0"/><rect x="329" y="604" width="1" height="15" fill="#c0c0c0"/><rect x="333" y="604" width="1" height="15" fill="#c0c0c0"/><rect x="337" y="603" width="1" height="16" fill="#c0c0c0"/><rect x="341" y="602" width="1" height="17" fill="#c0c0c0"/><rect x="345" y="602" width="1" height="17" fill="#c0c0c0"/><rect x="349" y="604" width="1" height="15" fill="#c0c0c0"/><rect x="353" y="607" width="1" height="12" fill="#c0c0c0"/><rect x="357" y="610" width="1" height="9" fill="#c0c0c0"/><rect x="361" y="612" width="1" height="7" fill="#c0c0c0"/><rect x="365" y="613" width="1" height="6" fill="#c0c0c0"/><rect x="369" y="613" width="1" height="6" fill="#c0c0c0"/><rect x="373" y="612" width="1" height="7" fill="#c0c0c0"/><rect x="377" y="613" width="1" height="6" fill="#c0c0c0"/><rect x="381" y="615" width="1" height="4" fill="#c0c0c0"/><rect x="385" y="617" width="1" height="2" fill="#c0c0c0"/><rect x="389" y="618" width="1" height="1" fill="#c0c0c0"/><rect x="393" y="618" width="1" height="1" fill="#c0c0c0"/><rect x="397" y="618" width="1" height="1" fill="#c0c0c0"/><rect x="401" y="618" width="1" height="1" fill="#c0c0c0"/><rect x="405" y="616" width="1" height="3" fill="#c0c0c0"/><rect x="409" y="618" width="1" height="1" fill="#c0c0c0"/><rect x="413" y="618" width="1" height="1" fill="#c0c0c0"/><rect x="417" y="618" width="1" height="1" fill="#c0c0c0"/><rect x="421" y="618" width="1" height="1" fill="#c0c0c0"/><rect x="425" y="617" width="1" height="2" fill="#c0c0c0"/><rect x="429" y="615" width="1" height="4" fill="#c0c0c0"/><rect x="433" y="609" width="1" height="10" fill="#c0c0c0"/><rect x="437" y="606" width="1" height="13" fill="#c0c0c0"/><rect x="441" y="605" width="1" height="14" fill="#c0c0c0"/><rect x="445" y="604" width="1" height="15" fill="#c0c0c0"/><rect x="449" y="603" width="1" height="16" fill="#c0c0c0"/><rect x="453" y="605" width="1" height="14" fill="#c0c0c0"/><rect x="457" y="604" width="1" height="15" fill="#c0c0c0"/><rect x="461" y="604" width="1" height="15" fill="#c0c0c0"/><rect x="465" y="604" width="1" height="15" fill="#c0c0c0"/><rect x="469" y="604" width="1" height="15" fill="#c0c0c0"/><rect x="473" y="604" width="1" height="15" fill="#c0c0c0"/><rect x="477" y="604" width="1" height="15" fill="#c0c0c0"/><rect x="481" y="604" width="1" height="15" fill="#c0c0c0"/><rect x="485" y="606" width="1" height="13" fill="#c0c0c0"/><rect x="489" y="608" width="1" height="11" fill="#c0c0c0"/><rect x="493" y="608" width="1" height="11" fill="#c0c0c0"/><rect x="497" y="608" width="1" height="11" fill="#c0c0c0"/><rect x="501" y="609" width="1" height="10" fill="#c0c0c0"/><rect x="505" y="610" width="1" height="9" fill="#c0c0c0"/><rect x="509" y="611" width="1" height="8" fill="#c0c0c0"/><rect x="513" y="612" width="1" height="7" fill="#c0c0c0"/><rect x="517" y="612" width="1" height="7" fill="#c0c0c0"/><rect x="521" y="613" width="1" height="6" fill="#c0c0c0"/><rect x="525" y="616" width="1" height="3" fill="#c0c0c0"/><rect x="529" y="616" width="1" height="3" fill="#c0c0c0"/><rect x="533" y="616" width="1" height="3" fill="#c0c0c0"/><rect x="537" y="615" width="1" height="4" fill="#c0c0c0"/><rect x="541" y="616" width="1" height="3" fill="#c0c0c0"/><rect x="545" y="616" width="1" height="3" fill="#c0c0c0"/><rect x="549" y="614" width="1" height="5" fill="#c0c0c0"/><rect x="553" y="612" width="1" height="7" fill="#c0c0c0"/><rect x="557" y="610" width="1" height="9" fill="#c0c0c0"/><rect x="561" y="608" width="1" height="11" fill="#c0c0c0"/><rect x="565" y="607" width="1" height="12" fill="#c0c0c0"/><rect x="569" y="610" width="1" height="9" fill="#c0c0c0"/><rect x="573" y="613" width="1" height="6" fill="#c0c0c0"/><rect x="577" y="616" width="1" height="3" fill="#c0c0c0"/><rect x="581" y="618" width="1" height="3" fill="#c0c0c0"/><rect x="585" y="618" width="1" height="10" fill="#c0c0c0"/><rect x="589" y="618" width="1" height="16" fill="#c0c0c0"/><rect x="593" y="618" width="1" height="19" fill="#c0c0c0"/><rect x="597" y="618" width="1" height="21" fill="#c0c0c0"/><rect x="601" y="618" width="1" height="21" fill="#c0c0c0"/><rect x="605" y="618" width="1" height="21" fill="#c0c0c0"/><rect x="609" y="618" width="1" height="15" fill="#c0c0c0"/><rect x="613" y="618" width="1" height="11" fill="#c0c0c0"/><rect x="617" y="618" width="1" height="10" fill="#c0c0c0"/><rect x="621" y="618" width="1" height="11" fill="#c0c0c0"/><rect x="625" y="618" width="1" height="16" fill="#c0c0c0"/><rect x="629" y="618" width="1" height="20" fill="#c0c0c0"/><rect x="633" y="618" width="1" height="23" fill="#c0c0c0"/><rect x="637" y="618" width="1" height="26" fill="#c0c0c0"/><rect x="641" y="618" width="1" height="29" fill="#c0c0c0"/><rect x="645" y="618" width="1" height="31" fill="#c0c0c0"/><rect x="649" y="618" width="1" height="36" fill="#c0c0c0"/><rect x="653" y="618" width="1" height="39" fill="#c0c0c0"/><rect x="657" y="618" width="1" height="41" fill="#c0c0c0"/><rect x="661" y="618" width="1" height="43" fill="#c0c0c0"/><rect x="665" y="618" width="1" height="43" fill="#c0c0c0"/><rect x="669" y="618" width="1" height="43" fill="#c0c0c0"/><rect x="673" y="618" width="1" height="43" fill="#c0c0c0"/><rect x="677" y="618" width="1" height="44" fill="#c0c0c0"/><rect x="681" y="618" width="1" height="44" fill="#c0c0c0"/><rect x="685" y="618" width="1" height="41" fill="#c0c0c0"/><rect x="689" y="618" width="1" height="39" fill="#c0c0c0"/><rect x="693" y="618" width="1" height="37" fill="#c0c0c0"/><rect x="697" y="618" width="1" height="36" fill="#c0c0c0"/><rect x="701" y="618" width="1" height="35" fill="#c0c0c0"/><rect x="705" y="618" width="1" height="34" fill="#c0c0c0"/><rect x="709" y="618" width="1" height="33" fill="#c0c0c0"/><rect x="713" y="618" width="1" height="31" fill="#c0c0c0"/><rect x="717" y="618" width="1" height="30" fill="#c0c0c0"/><rect x="721" y="618" width="1" height="29" fill="#c0c0c0"/><rect x="725" y="618" width="1" height="28" fill="#c0c0c0"/><rect x="729" y="618" width="1" height="26" fill="#c0c0c0"/><rect x="733" y="618" width="1" height="24" fill="#c0c0c0"/><rect x="737" y="618" width="1" height="21" fill="#c0c0c0"/><rect x="741" y="618" width="1" height="18" fill="#c0c0c0"/><rect x="745" y="618" width="1" height="14" fill="#c0c0c0"/><rect x="749" y="618" width="1" height="10" fill="#c0c0c0"/><rect x="753" y="618" width="1" height="6" fill="#c0c0c0"/><rect x="757" y="618" width="1" height="3" fill="#c0c0c0"/><rect x="761" y="618" width="1" height="2" fill="#c0c0c0"/><rect x="765" y="618" width="1" height="1" fill="#c0c0c0"/><rect x="769" y="618" width="1" height="1" fill="#c0c0c0"/><rect x="773" y="615" width="1" height="4" fill="#c0c0c0"/><rect x="777" y="612" width="1" height="7" fill="#c0c0c0"/><rect x="781" y="611" width="1" height="8" fill="#c0c0c0"/><rect x="785" y="610" width="1" height="9" fill="#c0c0c0"/><rect x="789" y="607" width="1" height="12" fill="#c0c0c0"/><rect x="793" y="602" width="1" height="17" fill="#c0c0c0"/><rect x="797" y="602" width="1" height="17" fill="#c0c0c0"/><rect x="801" y="604" width="1" height="15" fill="#c0c0c0"/><rect x="805" y="605" width="1" height="14" fill="#c0c0c0"/><rect x="809" y="605" width="1" height="14" fill="#c0c0c0"/><rect x="813" y="605" width="1" height="14" fill="#c0c0c0"/><rect x="817" y="603" width="1" height="16" fill="#c0c0c0"/><rect x="821" y="602" width="1" height="17" fill="#c0c0c0"/><rect x="825" y="602" width="1" height="17" fill="#c0c0c0"/><rect x="829" y="601" width="1" height="18" fill="#c0c0c0"/><rect x="833" y="600" width="1" height="19" fill="#c0c0c0"/><rect x="837" y="599" width="1" height="20" fill="#c0c0c0"/><rect x="841" y="600" width="1" height="19" fill="#c0c0c0"/><rect x="845" y="600" width="1" height="19" fill="#c0c0c0"/><rect x="849" y="600" width="1" height="19" fill="#c0c0c0"/><rect x="853" y="601" width="1" height="18" fill="#c0c0c0"/><rect x="857" y="604" width="1" height="15" fill="#c0c0c0"/><rect x="861" y="605" width="1" height="14" fill="#c0c0c0"/><rect x="865" y="606" width="1" height="13" fill="#c0c0c0"/><rect x="869" y="605" width="1" height="14" fill="#c0c0c0"/><rect x="873" y="605" width="1" height="14" fill="#c0c0c0"/><rect x="877" y="605" width="1" height="14" fill="#c0c0c0"/><rect x="881" y="604" width="1" height="15" fill="#c0c0c0"/><rect x="885" y="605" width="1" height="14" fill="#c0c0c0"/><rect x="889" y="609" width="1" height="10" fill="#c0c0c0"/><rect x="893" y="613" width="1" height="6" fill="#c0c0c0"/><rect x="897" y="617" width="1" height="2" fill="#c0c0c0"/><rect x="901" y="618" width="1" height="3" fill="#c0c0c0"/><rect x="905" y="618" width="1" height="6" fill="#c0c0c0"/><rect x="909" y="618" width="1" height="9" fill="#c0c0c0"/><rect x="913" y="618" width="1" height="11" fill="#c0c0c0"/><rect x="917" y="618" width="1" height="11" fill="#c0c0c0"/><rect x="921" y="618" width="1" height="5" fill="#c0c0c0"/><rect x="925" y="618" width="1" height="3" fill="#c0c0c0"/><rect x="929" y="618" width="1" height="1" fill="#c0c0c0"/><rect x="933" y="618" width="1" height="1" fill="#c0c0c0"/><rect x="937" y="618" width="1" height="1" fill="#c0c0c0"/><rect x="941" y="618" width="1" height="2" fill="#c0c0c0"/><rect x="945" y="618" width="1" height="1" fill="#c0c0c0"/><rect x="949" y="617" width="1" height="2" fill="#c0c0c0"/><rect x="953" y="617" width="1" height="2" fill="#c0c0c0"/><rect x="957" y="618" width="1" height="1" fill="#c0c0c0"/><rect x="961" y="618" width="1" height="1" fill="#c0c0c0"/><rect x="965" y="618" width="1" height="1" fill="#c0c0c0"/><rect x="969" y="618" width="1" height="1" fill="#c0c0c0"/><rect x="973" y="618" width="1" height="1" fill="#c0c0c0"/><rect x="977" y="618" width="1" height="1" fill="#c0c0c0"/><rect x="981" y="618" width="1" height="1" fill="#c0c0c0"/><rect x="985" y="617" width="1" height="2" fill="#c0c0c0"/><rect x="989" y="614" width="1" height="5" fill="#c0c0c0"/><rect x="993" y="612" width="1" height="7" fill="#c0c0c0"/><rect x="997" y="611" width="1" height="8" fill="#c0c0c0"/><rect x="1001" y="611" width="1" height="8" fill="#c0c0c0"/><rect x="1005" y="610" width="1" height="9" fill="#c0c0c0"/><rect x="1009" y="610" width="1" height="9" fill="#c0c0c0"/><rect x="1013" y="611" width="1" height="8" fill="#c0c0c0"/><rect x="1017" y="617" width="1" height="2" fill="#c0c0c0"/><rect x="1021" y="618" width="1" height="1" fill="#c0c0c0"/><rect x="1025" y="618" width="1" height="3" fill="#c0c0c0"/><rect x="1029" y="618" width="1" height="4" fill="#c0c0c0"/><rect x="1033" y="618" width="1" height="6" fill="#c0c0c0"/><rect x="1037" y="618" width="1" height="11" fill="#c0c0c0"/><rect x="1041" y="618" width="1" height="15" fill="#c0c0c0"/><rect x="1045" y="618" width="1" height="17" fill="#c0c0c0"/><rect x="1049" y="618" width="1" height="20" fill="#c0c0c0"/><rect x="1053" y="618" width="1" height="22" fill="#c0c0c0"/><rect x="1057" y="618" width="1" height="24" fill="#c0c0c0"/><rect x="1061" y="618" width="1" height="25" fill="#c0c0c0"/><rect x="1065" y="618" width="1" height="27" fill="#c0c0c0"/><rect x="1069" y="618" width="1" height="28" fill="#c0c0c0"/><rect x="1073" y="618" width="1" height="29" fill="#c0c0c0"/><rect x="1077" y="618" width="1" height="26" fill="#c0c0c0"/><rect x="1081" y="618" width="1" height="23" fill="#c0c0c0"/><rect x="1085" y="618" width="1" height="19" fill="#c0c0c0"/><rect x="1089" y="618" width="1" height="17" fill="#c0c0c0"/><rect x="1093" y="618" width="1" height="15" fill="#c0c0c0"/><rect x="1097" y="618" width="1" height="14" fill="#c0c0c0"/><rect x="1101" y="618" width="1" height="11" fill="#c0c0c0"/><rect x="1105" y="618" width="1" height="9" fill="#c0c0c0"/><rect x="1109" y="618" width="1" height="7" fill="#c0c0c0"/><rect x="1113" y="618" width="1" height="4" fill="#c0c0c0"/><rect x="1117" y="618" width="1" height="1" fill="#c0c0c0"/><rect x="1121" y="616" width="1" height="3" fill="#c0c0c0"/><rect x="1125" y="614" width="1" height="5" fill="#c0c0c0"/><rect x="1129" y="612" width="1" height="7" fill="#c0c0c0"/></g><polyline points="5,591.7 13,589 21.7,585 30,580 38,575.8 48,572.5 56.7,571.7 65,575.8 70,582.5 75,590 80,599 85,607.5 90,616.7 95,625.8 100,632.5 105,638 110,641.7 116.7,643 123,642.5 130,641 136.7,639.7 143,639 148,637.5 155,638 160,640.8 166.7,643 171.7,646 176.7,647.5 183,646.7 190,644 196.7,640 201.7,635.8 206.7,630.8 213,627.5 220,625.8 226.7,625 233,626 241,627 250,630.7 260,629.5 267.5,625.7 275,619.5 282.5,610.7 290,603 297.5,599 305,598 312.5,598.5 320,602 326,604 340,604.5 352.5,604.5 362.5,605 370,607.7 377.5,609 385,611.5 392.5,614 400,615 407.5,617 415,617.5 422.5,617.5 430,616.5 437.5,614 445,610.7 452.5,608 460,606 467.5,604.7 477.5,604.5 490,605 502.5,606 515,607.7 522.5,609.5 530,611 540,613 550,614 560,613.5 567.5,612 575,611 582.5,612 590,617 597.5,622 601,625.7 607.5,630.7 615,633 625,634 635,635 645,638 652.5,643 660,649.5 667.5,654 675,657.5 682.5,660 690,659.5 700,657.7 710,655.7 720,652 730,649.5 740,645.7 750,640 757.5,634.5 765,629 772.5,623 780,618 787.5,614.5 795,610 802.5,607.7 810,605.7 817.5,604 825,602.5 835,601.5 845,600 855,599.5 865,600 875,602 885,603.5 895,605 902.5,608 910,613 917.5,618 925,623 935,625 942.5,623.7 950,621 957.5,619.5 967.5,617.7 980,617.5 990,617 1000,615.7 1007.5,614.5 1015,611.5 1022.5,611 1030,613 1037.5,617 1045,622 1052.5,628 1060,633 1067.5,637.5 1075,642 1082.5,643.7 1090,642.7 1097.5,640 1105,636.5 1112.5,632 1120,627 1126,623" fill="none" stroke="#ff0000" stroke-width="1" stroke-dasharray="3,3" shape-rendering="crispEdges"/><g shape-rendering="crispEdges"><line x1="6" y1="709.5" x2="1420" y2="709.5" stroke="#c0c0c0" stroke-dasharray="3,3"/><line x1="6" y1="760.5" x2="1420" y2="760.5" stroke="#c0c0c0" stroke-dasharray="3,3"/></g><polyline points="5.5,714 9.5,711 13.5,704 17.5,703.7 21.5,706 25.5,707 29.5,709.5 33.5,705.7 37.5,703 41.5,705.7 45.5,707.5 49.5,706.5 53.5,706.5 57.5,735.7 61.5,745.7 65.5,750 69.5,754.5 73.5,759 77.5,762.5 81.5,757 85.5,752 89.5,752 93.5,751 97.5,752 101.5,753 105.5,748 109.5,750 113.5,748 117.5,744.5 121.5,733.7 125.5,735.7 129.5,734.5 133.5,750.7 137.5,752 141.5,744 145.5,743.7 149.5,755.7 153.5,759 157.5,761 161.5,758 165.5,756 169.5,753.7 173.5,738 177.5,727.5 181.5,732 185.5,730 189.5,728.7 193.5,738 197.5,734.5 201.5,730 205.5,735 209.5,737 213.5,737.5 217.5,740 221.5,745 225.5,737.5 229.5,747.5 233.5,747.5 237.5,740 241.5,742 245.5,744 249.5,742 253.5,725 257.5,727 261.5,724 265.5,720 269.5,713.7 273.5,713.5 277.5,718 281.5,717 285.5,720 289.5,725.7 293.5,734 297.5,731 301.5,729.5 305.5,729 309.5,730 313.5,732 317.5,738 321.5,727 325.5,721.5 329.5,720 333.5,725 337.5,728 341.5,723 345.5,721 349.5,734 353.5,734.5 357.5,739.5 361.5,735.7 365.5,735 369.5,732.5 373.5,728.7 377.5,731.5 381.5,740 385.5,739 389.5,739.5 393.5,730 397.5,737.5 401.5,737 405.5,731 409.5,733 413.5,734.5 417.5,732 421.5,729.5 425.5,736.5 429.5,722 433.5,715 437.5,718 441.5,722 445.5,721 449.5,722.7 453.5,735.7 457.5,728 461.5,723 465.5,731.5 469.5,725 473.5,729.5 477.5,727 481.5,725 485.5,727 489.5,735.7 493.5,732 497.5,726.5 501.5,729.5 505.5,732.7 509.5,729.5 513.5,733.7 517.5,732.5 521.5,735.7 525.5,740.7 529.5,733 533.5,727.5 537.5,734.5 541.5,734.5 545.5,734.5 549.5,726.5 553.5,721.5 557.5,718 561.5,721 565.5,721 569.5,738 573.5,746.5 577.5,740.7 581.5,749.5 585.5,758 589.5,758.5 593.5,758 597.5,755 601.5,744.5 605.5,745 609.5,731 613.5,732 617.5,732.5 621.5,738 625.5,749.5 629.5,758 633.5,754.5 637.5,755 641.5,756 645.5,757.5 649.5,762 653.5,764 657.5,765 661.5,763 665.5,754.5 669.5,757 673.5,761 677.5,762.5 681.5,754.5 685.5,755 689.5,750.7 693.5,745 697.5,752 701.5,752.5 705.5,757.5 709.5,756.5 713.5,753 717.5,745 721.5,749 725.5,752 729.5,746 733.5,747 737.5,733 741.5,731 745.5,730.7 749.5,727.5 753.5,726.5 757.5,726.5 761.5,727.7 765.5,731 769.5,722 773.5,720 777.5,720 781.5,722 785.5,719.5 789.5,710.7 793.5,706.5 797.5,726.5 801.5,730 805.5,728 809.5,726.5 813.5,730 817.5,717 821.5,716 825.5,725 829.5,725.7 833.5,718.7 837.5,720.7 841.5,726 845.5,724 849.5,725 853.5,722.5 857.5,734.5 861.5,730 865.5,725.7 869.5,730.7 873.5,724 877.5,725 881.5,722.5 885.5,722.5 889.5,742 893.5,741.5 897.5,748 901.5,749.5 905.5,749.5 909.5,752 913.5,744.5 917.5,738 921.5,728.5 925.5,738 929.5,734.5 933.5,734.5 937.5,726.5 941.5,732 945.5,730 949.5,731 953.5,732.5 957.5,736 961.5,733 965.5,731 969.5,736 973.5,737 977.5,736 981.5,740 985.5,722.5 989.5,721 993.5,723.7 997.5,727 1001.5,727 1005.5,724.5 1009.5,722.5 1013.5,733 1017.5,749 1021.5,745 1025.5,741.5 1029.5,744 1033.5,744.5 1037.5,752.5 1041.5,754 1045.5,752.5 1049.5,757.5 1053.5,756 1057.5,758 1061.5,758.7 1065.5,759.5 1069.5,759.5 1073.5,760 1077.5,750 1081.5,734.5 1085.5,733 1089.5,738 1093.5,738 1097.5,736.5 1101.5,735 1105.5,729.5 1109.5,731 1113.5,721 1117.5,722 1121.5,720.7 1125.5,720 1129.5,719.5" fill="none" stroke="#1e90ff" stroke-width="1" shape-rendering="crispEdges"/><g shape-rendering="crispEdges"><rect x="1421" y="30" width="2" height="1" fill="#000"/><rect x="1421" y="63" width="2" height="1" fill="#000"/><rect x="1421" y="96" width="2" height="1" fill="#000"/><rect x="1421" y="129" width="2" height="1" fill="#000"/><rect x="1421" y="162" width="2" height="1" fill="#000"/><rect x="1421" y="195" width="2" height="1" fill="#000"/><rect x="1421" y="228" width="2" height="1" fill="#000"/><rect x="1421" y="261" width="2" height="1" fill="#000"/><rect x="1421" y="294" width="2" height="1" fill="#000"/><rect x="1421" y="327" width="2" height="1" fill="#000"/><rect x="1421" y="360" width="2" height="1" fill="#000"/><rect x="1421" y="393" width="2" height="1" fill="#000"/><rect x="1421" y="426" width="2" height="1" fill="#000"/><rect x="1421" y="459" width="2" height="1" fill="#000"/><rect x="1421" y="492" width="2" height="1" fill="#000"/><rect x="1421" y="525" width="2" height="1" fill="#000"/><rect x="1421" y="565" width="1" height="1" fill="#000"/><rect x="1421" y="666" width="1" height="1" fill="#000"/><rect x="1421" y="671" width="1" height="1" fill="#000"/><rect x="1421" y="798" width="1" height="1" fill="#000"/><rect x="1421" y="618" width="2" height="1" fill="#000"/><rect x="1420" y="668" width="1" height="1" fill="#fff"/><rect x="1420" y="562" width="1" height="1" fill="#fff"/><rect x="5" y="800" width="1" height="3" fill="#000"/><rect x="69" y="800" width="1" height="3" fill="#000"/><rect x="133" y="800" width="1" height="3" fill="#000"/><rect x="197" y="800" width="1" height="3" fill="#000"/><rect x="261" y="800" width="1" height="3" fill="#000"/><rect x="325" y="800" width="1" height="3" fill="#000"/><rect x="389" y="800" width="1" height="3" fill="#000"/><rect x="453" y="800" width="1" height="3" fill="#000"/><rect x="517" y="800" width="1" height="3" fill="#000"/><rect x="581" y="800" width="1" height="3" fill="#000"/><rect x="645" y="800" width="1" height="3" fill="#000"/><rect x="709" y="800" width="1" height="3" fill="#000"/><rect x="773" y="800" width="1" height="3" fill="#000"/><rect x="837" y="800" width="1" height="3" fill="#000"/><rect x="901" y="800" width="1" height="3" fill="#000"/><rect x="965" y="800" width="1" height="3" fill="#000"/><rect x="1029" y="800" width="1" height="3" fill="#000"/><rect x="1093" y="800" width="1" height="3" fill="#000"/></g></svg>
<!-- bottom tab bar -->
<div class="abs" style="left:0;top:820px;width:1464px;height:1px;background:#e4e4e4"></div>
<div class="abs" style="left:0;top:821px;width:1464px;height:1px;background:#fff"></div>
<div class="abs" style="left:0;top:822px;width:1464px;height:1px;background:#000"></div>
<div class="abs" style="left:0;top:823px;width:1464px;height:19px;background:#f0f0f0"></div>
<div class="abs" style="left:0;top:823px;width:1px;height:19px;background:#a8a8a8"></div><div class="abs" style="left:1px;top:823px;width:1px;height:19px;background:#707070"></div>
<div class="abs" style="left:0;top:842px;width:1464px;height:2px;background:#fff"></div>
<div class="abs" style="left:0;top:844px;width:1464px;height:2px;background:#f0f0f0"></div>
<div class="abs" style="left:0;top:846px;width:1464px;height:1px;background:#a0a0a0"></div>
<div class="abs" style="left:0;top:847px;width:1464px;height:1px;background:#f4f4f4"></div>
<div class="abs" style="left:330px;top:822px;width:106px;height:18px;background:#fff;border:1px solid #000;border-top:none"></div>
<div class="abs" style="left:114px;top:825px;width:1px;height:14px;background:#505050"></div><div class="abs" style="left:222px;top:825px;width:1px;height:14px;background:#505050"></div><div class="abs" style="left:550px;top:825px;width:1px;height:14px;background:#505050"></div><div class="abs" style="left:670px;top:825px;width:1px;height:14px;background:#505050"></div><div class="abs" style="left:794px;top:825px;width:1px;height:14px;background:#505050"></div><div class="abs" style="left:890px;top:825px;width:1px;height:14px;background:#505050"></div><div class="abs" style="left:970px;top:825px;width:1px;height:14px;background:#505050"></div><div class="abs" style="left:1074px;top:825px;width:1px;height:14px;background:#505050"></div><div class="abs" style="left:1166px;top:825px;width:1px;height:14px;background:#505050"></div><div class="abs" style="left:1246px;top:825px;width:1px;height:14px;background:#505050"></div>
<div class="abs" style="left:1436px;top:828px;width:0;height:0;border-top:3px solid transparent;border-bottom:3px solid transparent;border-right:3px solid #8c8c8c"></div>
<div class="abs" style="left:1455px;top:828px;width:0;height:0;border-top:3px solid transparent;border-bottom:3px solid transparent;border-left:3px solid #8c8c8c"></div>
<!-- one click trading panel -->
<div class="abs" style="left:8px;top:41px;width:52px;height:64px;background:linear-gradient(#f85050,#e03030 38%,#b00000);border:1px solid #c01414;border-bottom:none;box-sizing:border-box"></div>
<div class="abs" style="left:175px;top:41px;width:52px;height:64px;background:linear-gradient(#f85050,#e03030 38%,#b00000);border:1px solid #c01414;border-bottom:none;box-sizing:border-box"></div>
<div class="abs" style="left:8px;top:65px;width:109px;height:40px;background:linear-gradient(#e03030,#b00000);border:1px solid #b80808;box-sizing:border-box"></div>
<div class="abs" style="left:119px;top:65px;width:108px;height:40px;background:linear-gradient(#e03030,#b00000);border:1px solid #b80808;box-sizing:border-box"></div>
<div class="abs" style="left:9px;top:60px;width:50px;height:8px;background:linear-gradient(#e33434,#dc2c2c)"></div>
<div class="abs" style="left:176px;top:60px;width:50px;height:8px;background:linear-gradient(#e33434,#dc2c2c)"></div>
<div class="abs" style="left:12px;top:64px;width:44px;height:1px;background:#900000"></div>
<div class="abs" style="left:179px;top:64px;width:44px;height:1px;background:#900000"></div>
<div class="abs" style="left:62px;top:41px;width:111px;height:22px;background:#fff;border:1px solid #abadb3;box-sizing:border-box"></div>
<div class="abs" style="left:63px;top:42px;width:21px;height:20px;background:linear-gradient(#ececec,#c4c4c4);border-right:1px solid #abadb3;box-sizing:border-box"></div>
<div class="abs" style="left:152px;top:42px;width:20px;height:20px;background:linear-gradient(#ececec,#c4c4c4);border-left:1px solid #abadb3;box-sizing:border-box"></div>
<div class="abs" style="left:70px;top:50px;width:0;height:0;border-left:3px solid transparent;border-right:3px solid transparent;border-top:3px solid #4060c0"></div>
<div class="abs" style="left:158px;top:50px;width:0;height:0;border-left:3px solid transparent;border-right:3px solid transparent;border-bottom:3px solid #4060c0"></div>
<div class="t" style="left:20px;top:47px;font-size:12px;color:#fff;letter-spacing:-0.8px">SELL</div>
<div class="t" style="left:188px;top:47px;font-size:12px;color:#fff;letter-spacing:-0.4px">BUY</div>
<div class="t" style="left:124px;top:46px;font-size:12px;color:#000;letter-spacing:0.3px">1.00</div>
<div class="t" style="left:28px;top:86px;font-size:12px;color:#fff;font-weight:bold;letter-spacing:0.4px">1.32</div>
<div class="t" style="left:138px;top:86px;font-size:12px;color:#fff;font-weight:bold;letter-spacing:0.4px">1.32</div>
<div class="t" style="left:56px;top:64px;font-size:35px;color:#fff;transform:scaleX(0.92);transform-origin:0 0">39</div>
<div class="t" style="left:165px;top:64px;font-size:35px;color:#fff;transform:scaleX(0.985);transform-origin:0 0">41</div>
<div class="t" style="left:95px;top:70px;font-size:12px;color:#fff;font-weight:bold">1</div>
<div class="t" style="left:206px;top:70px;font-size:12px;color:#fff;font-weight:bold">4</div>
<!-- title triangle -->
<svg class="abs" style="left:0;top:0" width="30" height="40"><polygon points="8,32.5 15.6,32.5 11.8,27.6" fill="#000"/></svg>
<div class="t s" style="left:1426px;top:24px;font-size:9.8px;color:#000;transform:scaleX(0.92);transform-origin:0 0;">1.36870</div><div class="t s" style="left:1426px;top:57px;font-size:9.8px;color:#000;transform:scaleX(0.92);transform-origin:0 0;">1.36440</div><div class="t s" style="left:1426px;top:90px;font-size:9.8px;color:#000;transform:scaleX(0.92);transform-origin:0 0;">1.36010</div><div class="t s" style="left:1426px;top:123px;font-size:9.8px;color:#000;transform:scaleX(0.92);transform-origin:0 0;">1.35580</div><div class="t s" style="left:1426px;top:156px;font-size:9.8px;color:#000;transform:scaleX(0.92);transform-origin:0 0;">1.35160</div><div class="t s" style="left:1426px;top:189px;font-size:9.8px;color:#000;transform:scaleX(0.92);transform-origin:0 0;">1.34730</div><div class="t s" style="left:1426px;top:222px;font-size:9.8px;color:#000;transform:scaleX(0.92);transform-origin:0 0;">1.34300</div><div class="t s" style="left:1426px;top:255px;font-size:9.8px;color:#000;transform:scaleX(0.92);transform-origin:0 0;">1.33870</div><div class="t s" style="left:1426px;top:288px;font-size:9.8px;color:#000;transform:scaleX(0.92);transform-origin:0 0;">1.33440</div><div class="t s" style="left:1426px;top:321px;font-size:9.8px;color:#000;transform:scaleX(0.92);transform-origin:0 0;">1.33010</div><div class="t s" style="left:1426px;top:354px;font-size:9.8px;color:#000;transform:scaleX(0.92);transform-origin:0 0;">1.32580</div><div class="t s" style="left:1426px;top:387px;font-size:9.8px;color:#000;transform:scaleX(0.92);transform-origin:0 0;">1.32150</div><div class="t s" style="left:1426px;top:420px;font-size:9.8px;color:#000;transform:scaleX(0.92);transform-origin:0 0;">1.31730</div><div class="t s" style="left:1426px;top:453px;font-size:9.8px;color:#000;transform:scaleX(0.92);transform-origin:0 0;">1.31300</div><div class="t s" style="left:1426px;top:486px;font-size:9.8px;color:#000;transform:scaleX(0.92);transform-origin:0 0;">1.30870</div><div class="t s" style="left:1426px;top:519px;font-size:9.8px;color:#000;transform:scaleX(0.92);transform-origin:0 0;">1.30440</div><div class="lab" style="top:117px;background:#ff0000;color:#fff"><span>1.35660</span></div><div class="lab" style="top:229px;background:#ff0000;color:#fff"><span>1.34206</span></div><div class="lab" style="top:345px;background:#00ff00;color:#fff"><span>1.32701</span></div><div class="lab" style="top:370px;background:#000;color:#fff"><span>1.32391</span></div><div class="lab" style="top:445px;background:#0000ff;color:#fff"><span>1.31407</span></div><div class="lab" style="top:553px;background:#0000ff;color:#fff"><span>1.30004</span></div><div class="t s" style="left:1424px;top:565px;font-size:9.8px;color:#000;transform:scaleX(0.92);transform-origin:0 0;">0.010311</div><div class="t s" style="left:1424px;top:613px;font-size:9.8px;color:#000;transform:scaleX(0.92);transform-origin:0 0;">0.00</div><div class="t s" style="left:1424px;top:655px;font-size:9.8px;color:#000;transform:scaleX(0.92);transform-origin:0 0;">-0.009203</div><div class="t s" style="left:1424px;top:671px;font-size:9.8px;color:#000;transform:scaleX(0.92);transform-origin:0 0;">100</div><div class="t s" style="left:1424px;top:704px;font-size:9.8px;color:#000;transform:scaleX(0.92);transform-origin:0 0;">70</div><div class="t s" style="left:1424px;top:755px;font-size:9.8px;color:#000;transform:scaleX(0.92);transform-origin:0 0;">30</div><div class="t s" style="left:1424px;top:787px;font-size:9.8px;color:#000;transform:scaleX(0.92);transform-origin:0 0;">0</div><div class="t s" style="left:4px;top:803px;font-size:9.8px;color:#000;transform:scaleX(0.92);transform-origin:0 0;">19 Dec 2018</div><div class="t s" style="left:68px;top:803px;font-size:9.8px;color:#000;transform:scaleX(0.92);transform-origin:0 0;">7 Jan 2019</div><div class="t s" style="left:132px;top:803px;font-size:9.8px;color:#000;transform:scaleX(0.92);transform-origin:0 0;">25 Jan 2019</div><div class="t s" style="left:196px;top:803px;font-size:9.8px;color:#000;transform:scaleX(0.92);transform-origin:0 0;">13 Feb 2019</div><div class="t s" style="left:260px;top:803px;font-size:9.8px;color:#000;transform:scaleX(0.92);transform-origin:0 0;">4 Mar 2019</div><div class="t s" style="left:324px;top:803px;font-size:9.8px;color:#000;transform:scaleX(0.92);transform-origin:0 0;">22 Mar 2019</div><div class="t s" style="left:388px;top:803px;font-size:9.8px;color:#000;transform:scaleX(0.92);transform-origin:0 0;">10 Apr 2019</div><div class="t s" style="left:452px;top:803px;font-size:9.8px;color:#000;transform:scaleX(0.92);transform-origin:0 0;">30 Apr 2019</div><div class="t s" style="left:516px;top:803px;font-size:9.8px;color:#000;transform:scaleX(0.92);transform-origin:0 0;">19 May 2019</div><div class="t s" style="left:580px;top:803px;font-size:9.8px;color:#000;transform:scaleX(0.92);transform-origin:0 0;">6 Jun 2019</div><div class="t s" style="left:644px;top:803px;font-size:9.8px;color:#000;transform:scaleX(0.92);transform-origin:0 0;">25 Jun 2019</div><div class="t s" style="left:708px;top:803px;font-size:9.8px;color:#000;transform:scaleX(0.92);transform-origin:0 0;">14 Jul 2019</div><div class="t s" style="left:772px;top:803px;font-size:9.8px;color:#000;transform:scaleX(0.92);transform-origin:0 0;">1 Aug 2019</div><div class="t s" style="left:836px;top:803px;font-size:9.8px;color:#000;transform:scaleX(0.92);transform-origin:0 0;">20 Aug 2019</div><div class="t s" style="left:900px;top:803px;font-size:9.8px;color:#000;transform:scaleX(0.92);transform-origin:0 0;">8 Sep 2019</div><div class="t s" style="left:964px;top:803px;font-size:9.8px;color:#000;transform:scaleX(0.92);transform-origin:0 0;">26 Sep 2019</div><div class="t s" style="left:1028px;top:803px;font-size:9.8px;color:#000;transform:scaleX(0.92);transform-origin:0 0;">15 Oct 2019</div><div class="t s" style="left:1092px;top:803px;font-size:9.8px;color:#000;transform:scaleX(0.92);transform-origin:0 0;">3 Nov 2019</div><div class="t s" style="left:20px;top:23px;font-size:9.8px;color:#000;transform:scaleX(0.988);transform-origin:0 0;">USDCAD-,Daily</div><div class="t s" style="left:95px;top:23px;font-size:9.8px;color:#000;transform:scaleX(0.938);transform-origin:0 0;">1.32355 1.32425 1.32309 1.32391</div><div class="t s" style="left:9px;top:567px;font-size:9.8px;color:#000;transform:scaleX(0.947);transform-origin:0 0;">MACD(12,26,9)</div><div class="t s" style="left:78px;top:567px;font-size:9.8px;color:#000;transform:scaleX(0.905);transform-origin:0 0;">0.001365</div><div class="t s" style="left:119.5px;top:567px;font-size:9.8px;color:#000;transform:scaleX(0.907);transform-origin:0 0;">-0.000471</div><div class="t s" style="left:9px;top:673px;font-size:9.8px;color:#000;transform:scaleX(0.912);transform-origin:0 0;">RSI(14)</div><div class="t s" style="left:44px;top:673px;font-size:9.8px;color:#000;transform:scaleX(0.918);transform-origin:0 0;">62.0390</div><div class="t " style="left:7px;top:0px;font-size:9.8px;color:#444;">H4</div><div class="t " style="left:36.5px;top:0px;font-size:9.8px;color:#444;">D1</div><div class="t " style="left:64px;top:0px;font-size:9.8px;color:#444;">W1</div><div class="t " style="left:90.5px;top:0px;font-size:9.8px;color:#444;">MN</div><div class="t " style="left:17.2px;top:827px;font-size:12.1px;color:#6e6e6e;transform:scaleX(1.0015);transform-origin:0 0;">EURUSD-,Daily</div><div class="t " style="left:124.2px;top:827px;font-size:12.1px;color:#6e6e6e;transform:scaleX(1.0249);transform-origin:0 0;">AUDUSD-,Daily</div><div class="t " style="left:234.2px;top:827px;font-size:12.1px;color:#6e6e6e;transform:scaleX(0.9942);transform-origin:0 0;">USDCHF-,Daily</div><div class="t " style="left:341.9px;top:827px;font-size:12.1px;color:#000;transform:scaleX(1.0015);transform-origin:0 0;">USDCAD-,Daily</div><div class="t " style="left:451.0px;top:827px;font-size:12.1px;color:#6e6e6e;transform:scaleX(1.0135);transform-origin:0 0;">USDCNH-,Daily</div><div class="t " style="left:561.2px;top:827px;font-size:12.1px;color:#6e6e6e;transform:scaleX(0.9995);transform-origin:0 0;">EURCHF-,Weekly</div><div class="t " style="left:681.9px;top:827px;font-size:12.1px;color:#6e6e6e;transform:scaleX(1.0333);transform-origin:0 0;">XAUUSD-,Weekly</div><div class="t " style="left:805.2px;top:827px;font-size:12.1px;color:#6e6e6e;transform:scaleX(0.9843);transform-origin:0 0;">GBPUSD-,H1</div><div class="t " style="left:901.2px;top:827px;font-size:12.1px;color:#6e6e6e;transform:scaleX(1.0431);transform-origin:0 0;">UKOil-,H1</div><div class="t " style="left:980.2px;top:827px;font-size:12.1px;color:#6e6e6e;transform:scaleX(1.0416);transform-origin:0 0;">USDX-,Weekly</div><div class="t " style="left:1084.5px;top:827px;font-size:12.1px;color:#6e6e6e;transform:scaleX(0.9717);transform-origin:0 0;">EURCHF-,H1</div><div class="t " style="left:1178.5px;top:827px;font-size:12.1px;color:#6e6e6e;transform:scaleX(1.0265);transform-origin:0 0;">USOil-,H1</div>
</body></html>
